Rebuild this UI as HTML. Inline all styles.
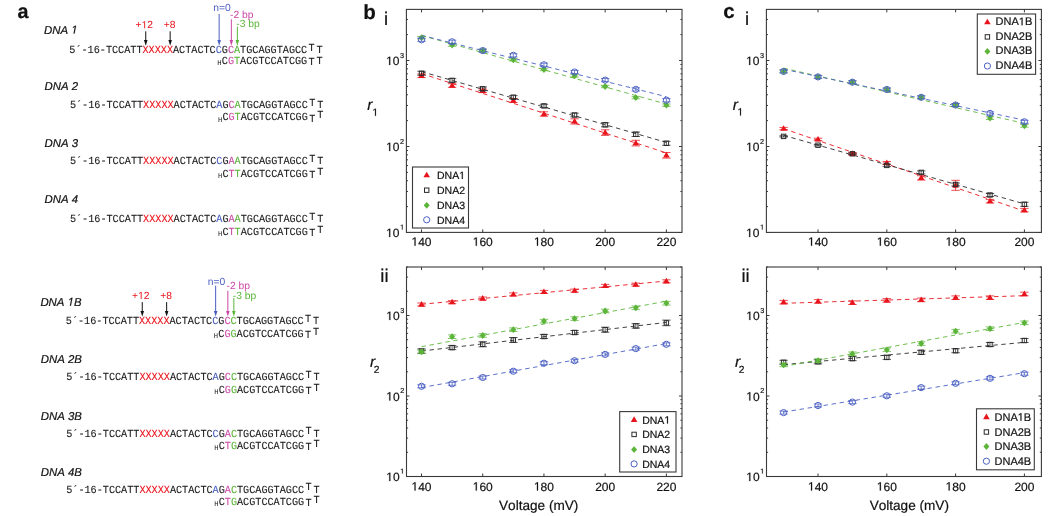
<!DOCTYPE html>
<html><head><meta charset="utf-8"><style>
html,body{margin:0;padding:0;background:#fff;width:1050px;height:516px;overflow:hidden}
svg{display:block;will-change:transform} text{text-rendering:geometricPrecision} .m{stroke-width:0.1px} text{font-kerning:none}

</style></head><body>
<svg width="1050" height="516" viewBox="0 0 1050 516">
<g fill="#111"><path d="M406.4,232.50h3M682,232.50h-3M406.4,206.61h1.6M682,206.61h-1.6M406.4,191.47h1.6M682,191.47h-1.6M406.4,180.72h1.6M682,180.72h-1.6M406.4,172.39h1.6M682,172.39h-1.6M406.4,165.58h1.6M682,165.58h-1.6M406.4,159.82h1.6M682,159.82h-1.6M406.4,154.83h1.6M682,154.83h-1.6M406.4,150.44h1.6M682,150.44h-1.6M406.4,146.50h3M682,146.50h-3M406.4,120.61h1.6M682,120.61h-1.6M406.4,105.47h1.6M682,105.47h-1.6M406.4,94.72h1.6M682,94.72h-1.6M406.4,86.39h1.6M682,86.39h-1.6M406.4,79.58h1.6M682,79.58h-1.6M406.4,73.82h1.6M682,73.82h-1.6M406.4,68.83h1.6M682,68.83h-1.6M406.4,64.44h1.6M682,64.44h-1.6M406.4,60.50h3M682,60.50h-3M406.4,34.61h1.6M682,34.61h-1.6M406.4,19.47h1.6M682,19.47h-1.6M421.50,232.4v-3M421.50,9.4v3M482.73,232.4v-3M482.73,9.4v3M543.95,232.4v-3M543.95,9.4v3M605.17,232.4v-3M605.17,9.4v3M666.40,232.4v-3M666.40,9.4v3" stroke="#3a3a3a" stroke-width="1" fill="none"/>
<rect x="406.4" y="9.4" width="275.6" height="223.0" fill="none" stroke="#3a3a3a" stroke-width="1.1"/>
<path d="M515 0H696V1409H530L197 1180V1010L515 1237Z" transform="translate(411.49,245.7) scale(0.00586,-0.00586)" fill="#111" stroke="#111" stroke-width="34.1"/><text x="418.16" y="245.7" font-family="Liberation Sans, sans-serif" font-size="12" stroke="#111" stroke-width="0.2">40</text>
<path d="M515 0H696V1409H530L197 1180V1010L515 1237Z" transform="translate(472.72,245.7) scale(0.00586,-0.00586)" fill="#111" stroke="#111" stroke-width="34.1"/><text x="479.39" y="245.7" font-family="Liberation Sans, sans-serif" font-size="12" stroke="#111" stroke-width="0.2">60</text>
<path d="M515 0H696V1409H530L197 1180V1010L515 1237Z" transform="translate(533.94,245.7) scale(0.00586,-0.00586)" fill="#111" stroke="#111" stroke-width="34.1"/><text x="540.61" y="245.7" font-family="Liberation Sans, sans-serif" font-size="12" stroke="#111" stroke-width="0.2">80</text>
<text x="605.17" y="245.70" font-family="Liberation Sans, sans-serif" font-size="12" text-anchor="middle" stroke="#111" stroke-width="0.2">200</text>
<text x="666.40" y="245.70" font-family="Liberation Sans, sans-serif" font-size="12" text-anchor="middle" stroke="#111" stroke-width="0.2">220</text>
<path d="M515 0H696V1409H530L197 1180V1010L515 1237Z" transform="translate(386.15,237.0) scale(0.00586,-0.00586)" fill="#111" stroke="#111" stroke-width="34.1"/><text x="392.83" y="237.0" font-family="Liberation Sans, sans-serif" font-size="12" stroke="#111" stroke-width="0.2">0</text>
<path d="M515 0H696V1409H530L197 1180V1010L515 1237Z" transform="translate(400.10,229.6) scale(0.00352,-0.00352)" fill="#111" stroke="#111" stroke-width="56.9"/>
<path d="M515 0H696V1409H530L197 1180V1010L515 1237Z" transform="translate(386.15,151.0) scale(0.00586,-0.00586)" fill="#111" stroke="#111" stroke-width="34.1"/><text x="392.83" y="151.0" font-family="Liberation Sans, sans-serif" font-size="12" stroke="#111" stroke-width="0.2">0</text>
<text x="400.10" y="143.60" font-family="Liberation Sans, sans-serif" font-size="7.2" stroke="#111" stroke-width="0.2">2</text>
<path d="M515 0H696V1409H530L197 1180V1010L515 1237Z" transform="translate(386.15,65.0) scale(0.00586,-0.00586)" fill="#111" stroke="#111" stroke-width="34.1"/><text x="392.83" y="65.0" font-family="Liberation Sans, sans-serif" font-size="12" stroke="#111" stroke-width="0.2">0</text>
<text x="400.10" y="57.60" font-family="Liberation Sans, sans-serif" font-size="7.2" stroke="#111" stroke-width="0.2">3</text>
<line x1="421.50" y1="73.54" x2="666.40" y2="152.91" stroke="#e8141c" stroke-width="0.9" stroke-dasharray="4.4 3.7"/>
<line x1="421.50" y1="71.57" x2="666.40" y2="142.43" stroke="#2a2a2a" stroke-width="0.9" stroke-dasharray="4.4 3.7"/>
<line x1="421.50" y1="35.41" x2="666.40" y2="104.13" stroke="#5cb53a" stroke-width="0.9" stroke-dasharray="4.4 3.7"/>
<line x1="421.50" y1="35.33" x2="666.40" y2="96.67" stroke="#4a5fc2" stroke-width="0.9" stroke-dasharray="4.4 3.7"/>
<path d="M421.50,74.00V77.60M417.30,74.00h8.4M417.30,77.60h8.4" stroke="#e8141c" stroke-width="0.9" fill="none" opacity="0.85"/>
<path d="M421.50,72.33 L424.80,77.93 L418.20,77.93 Z" fill="#e8141c"/>
<path d="M452.11,83.70V87.30M447.91,83.70h8.4M447.91,87.30h8.4" stroke="#e8141c" stroke-width="0.9" fill="none" opacity="0.85"/>
<path d="M452.11,82.03 L455.41,87.63 L448.81,87.63 Z" fill="#e8141c"/>
<path d="M482.73,89.00V92.60M478.53,89.00h8.4M478.53,92.60h8.4" stroke="#e8141c" stroke-width="0.9" fill="none" opacity="0.85"/>
<path d="M482.73,87.33 L486.03,92.93 L479.43,92.93 Z" fill="#e8141c"/>
<path d="M513.34,98.50V102.50M509.14,98.50h8.4M509.14,102.50h8.4" stroke="#e8141c" stroke-width="0.9" fill="none" opacity="0.85"/>
<path d="M513.34,97.03 L516.64,102.63 L510.04,102.63 Z" fill="#e8141c"/>
<path d="M543.95,111.80V116.20M539.75,111.80h8.4M539.75,116.20h8.4" stroke="#e8141c" stroke-width="0.9" fill="none" opacity="0.85"/>
<path d="M543.95,110.53 L547.25,116.13 L540.65,116.13 Z" fill="#e8141c"/>
<path d="M574.56,118.80V124.00M570.36,118.80h8.4M570.36,124.00h8.4" stroke="#e8141c" stroke-width="0.9" fill="none" opacity="0.85"/>
<path d="M574.56,117.93 L577.86,123.53 L571.26,123.53 Z" fill="#e8141c"/>
<path d="M605.17,129.80V135.40M600.97,129.80h8.4M600.97,135.40h8.4" stroke="#e8141c" stroke-width="0.9" fill="none" opacity="0.85"/>
<path d="M605.17,129.13 L608.47,134.73 L601.88,134.73 Z" fill="#e8141c"/>
<path d="M635.79,140.30V145.90M631.59,140.30h8.4M631.59,145.90h8.4" stroke="#e8141c" stroke-width="0.9" fill="none" opacity="0.85"/>
<path d="M635.79,139.63 L639.09,145.23 L632.49,145.23 Z" fill="#e8141c"/>
<path d="M666.40,152.50V158.10M662.20,152.50h8.4M662.20,158.10h8.4" stroke="#e8141c" stroke-width="0.9" fill="none" opacity="0.85"/>
<path d="M666.40,151.83 L669.70,157.43 L663.10,157.43 Z" fill="#e8141c"/>
<path d="M421.50,71.30V75.30M417.30,71.30h8.4M417.30,75.30h8.4" stroke="#2a2a2a" stroke-width="0.9" fill="none" opacity="0.85"/>
<rect x="419.30" y="71.10" width="4.4" height="4.4" fill="none" stroke="#2a2a2a" stroke-width="1"/>
<path d="M452.11,78.60V82.20M447.91,78.60h8.4M447.91,82.20h8.4" stroke="#2a2a2a" stroke-width="0.9" fill="none" opacity="0.85"/>
<rect x="449.91" y="78.20" width="4.4" height="4.4" fill="none" stroke="#2a2a2a" stroke-width="1"/>
<path d="M482.73,87.00V90.60M478.53,87.00h8.4M478.53,90.60h8.4" stroke="#2a2a2a" stroke-width="0.9" fill="none" opacity="0.85"/>
<rect x="480.53" y="86.60" width="4.4" height="4.4" fill="none" stroke="#2a2a2a" stroke-width="1"/>
<path d="M513.34,95.60V98.80M509.14,95.60h8.4M509.14,98.80h8.4" stroke="#2a2a2a" stroke-width="0.9" fill="none" opacity="0.85"/>
<rect x="511.14" y="95.00" width="4.4" height="4.4" fill="none" stroke="#2a2a2a" stroke-width="1"/>
<path d="M543.95,104.30V107.50M539.75,104.30h8.4M539.75,107.50h8.4" stroke="#2a2a2a" stroke-width="0.9" fill="none" opacity="0.85"/>
<rect x="541.75" y="103.70" width="4.4" height="4.4" fill="none" stroke="#2a2a2a" stroke-width="1"/>
<path d="M574.56,113.20V116.80M570.36,113.20h8.4M570.36,116.80h8.4" stroke="#2a2a2a" stroke-width="0.9" fill="none" opacity="0.85"/>
<rect x="572.36" y="112.80" width="4.4" height="4.4" fill="none" stroke="#2a2a2a" stroke-width="1"/>
<path d="M605.17,122.80V126.80M600.97,122.80h8.4M600.97,126.80h8.4" stroke="#2a2a2a" stroke-width="0.9" fill="none" opacity="0.85"/>
<rect x="602.97" y="122.60" width="4.4" height="4.4" fill="none" stroke="#2a2a2a" stroke-width="1"/>
<path d="M635.79,132.10V136.50M631.59,132.10h8.4M631.59,136.50h8.4" stroke="#2a2a2a" stroke-width="0.9" fill="none" opacity="0.85"/>
<rect x="633.59" y="132.10" width="4.4" height="4.4" fill="none" stroke="#2a2a2a" stroke-width="1"/>
<path d="M666.40,141.30V145.30M662.20,141.30h8.4M662.20,145.30h8.4" stroke="#2a2a2a" stroke-width="0.9" fill="none" opacity="0.85"/>
<rect x="664.20" y="141.10" width="4.4" height="4.4" fill="none" stroke="#2a2a2a" stroke-width="1"/>
<path d="M421.50,36.50V38.90M417.30,36.50h8.4M417.30,38.90h8.4" stroke="#5cb53a" stroke-width="0.9" fill="none" opacity="0.85"/>
<path d="M421.50,34.30 L424.50,37.70 L421.50,41.10 L418.50,37.70 Z" fill="#5cb53a"/>
<path d="M452.11,43.90V46.30M447.91,43.90h8.4M447.91,46.30h8.4" stroke="#5cb53a" stroke-width="0.9" fill="none" opacity="0.85"/>
<path d="M452.11,41.70 L455.11,45.10 L452.11,48.50 L449.11,45.10 Z" fill="#5cb53a"/>
<path d="M482.73,49.40V51.80M478.53,49.40h8.4M478.53,51.80h8.4" stroke="#5cb53a" stroke-width="0.9" fill="none" opacity="0.85"/>
<path d="M482.73,47.20 L485.73,50.60 L482.73,54.00 L479.73,50.60 Z" fill="#5cb53a"/>
<path d="M513.34,58.60V61.00M509.14,58.60h8.4M509.14,61.00h8.4" stroke="#5cb53a" stroke-width="0.9" fill="none" opacity="0.85"/>
<path d="M513.34,56.40 L516.34,59.80 L513.34,63.20 L510.34,59.80 Z" fill="#5cb53a"/>
<path d="M543.95,68.30V70.70M539.75,68.30h8.4M539.75,70.70h8.4" stroke="#5cb53a" stroke-width="0.9" fill="none" opacity="0.85"/>
<path d="M543.95,66.10 L546.95,69.50 L543.95,72.90 L540.95,69.50 Z" fill="#5cb53a"/>
<path d="M574.56,74.70V77.10M570.36,74.70h8.4M570.36,77.10h8.4" stroke="#5cb53a" stroke-width="0.9" fill="none" opacity="0.85"/>
<path d="M574.56,72.50 L577.56,75.90 L574.56,79.30 L571.56,75.90 Z" fill="#5cb53a"/>
<path d="M605.17,85.30V87.70M600.97,85.30h8.4M600.97,87.70h8.4" stroke="#5cb53a" stroke-width="0.9" fill="none" opacity="0.85"/>
<path d="M605.17,83.10 L608.17,86.50 L605.17,89.90 L602.17,86.50 Z" fill="#5cb53a"/>
<path d="M635.79,96.40V98.80M631.59,96.40h8.4M631.59,98.80h8.4" stroke="#5cb53a" stroke-width="0.9" fill="none" opacity="0.85"/>
<path d="M635.79,94.20 L638.79,97.60 L635.79,101.00 L632.79,97.60 Z" fill="#5cb53a"/>
<path d="M666.40,104.00V106.40M662.20,104.00h8.4M662.20,106.40h8.4" stroke="#5cb53a" stroke-width="0.9" fill="none" opacity="0.85"/>
<path d="M666.40,101.80 L669.40,105.20 L666.40,108.60 L663.40,105.20 Z" fill="#5cb53a"/>
<path d="M421.50,38.20V41.40M417.30,38.20h8.4M417.30,41.40h8.4" stroke="#4a5fc2" stroke-width="0.9" fill="none" opacity="0.85"/>
<circle cx="421.50" cy="39.80" r="3.1" fill="none" stroke="#4a5fc2" stroke-width="1"/>
<path d="M452.11,40.20V43.40M447.91,40.20h8.4M447.91,43.40h8.4" stroke="#4a5fc2" stroke-width="0.9" fill="none" opacity="0.85"/>
<circle cx="452.11" cy="41.80" r="3.1" fill="none" stroke="#4a5fc2" stroke-width="1"/>
<path d="M482.73,49.00V52.20M478.53,49.00h8.4M478.53,52.20h8.4" stroke="#4a5fc2" stroke-width="0.9" fill="none" opacity="0.85"/>
<circle cx="482.73" cy="50.60" r="3.1" fill="none" stroke="#4a5fc2" stroke-width="1"/>
<path d="M513.34,53.70V56.90M509.14,53.70h8.4M509.14,56.90h8.4" stroke="#4a5fc2" stroke-width="0.9" fill="none" opacity="0.85"/>
<circle cx="513.34" cy="55.30" r="3.1" fill="none" stroke="#4a5fc2" stroke-width="1"/>
<path d="M543.95,63.20V66.40M539.75,63.20h8.4M539.75,66.40h8.4" stroke="#4a5fc2" stroke-width="0.9" fill="none" opacity="0.85"/>
<circle cx="543.95" cy="64.80" r="3.1" fill="none" stroke="#4a5fc2" stroke-width="1"/>
<path d="M574.56,70.40V73.60M570.36,70.40h8.4M570.36,73.60h8.4" stroke="#4a5fc2" stroke-width="0.9" fill="none" opacity="0.85"/>
<circle cx="574.56" cy="72.00" r="3.1" fill="none" stroke="#4a5fc2" stroke-width="1"/>
<path d="M605.17,78.50V81.70M600.97,78.50h8.4M600.97,81.70h8.4" stroke="#4a5fc2" stroke-width="0.9" fill="none" opacity="0.85"/>
<circle cx="605.17" cy="80.10" r="3.1" fill="none" stroke="#4a5fc2" stroke-width="1"/>
<path d="M635.79,87.80V91.00M631.59,87.80h8.4M631.59,91.00h8.4" stroke="#4a5fc2" stroke-width="0.9" fill="none" opacity="0.85"/>
<circle cx="635.79" cy="89.40" r="3.1" fill="none" stroke="#4a5fc2" stroke-width="1"/>
<path d="M666.40,98.60V101.80M662.20,98.60h8.4M662.20,101.80h8.4" stroke="#4a5fc2" stroke-width="0.9" fill="none" opacity="0.85"/>
<circle cx="666.40" cy="100.20" r="3.1" fill="none" stroke="#4a5fc2" stroke-width="1"/>
<rect x="412.5" y="167" width="56.0" height="61" fill="#fff" stroke="#3a3a3a" stroke-width="1.1"/>
<path d="M426.70,171.73 L430.00,177.33 L423.40,177.33 Z" fill="#e8141c"/>
<text x="437.00" y="179.0" font-family="Liberation Sans, sans-serif" font-size="10.5" stroke="#111" stroke-width="0.2">DNA</text><path d="M515 0H696V1409H530L197 1180V1010L515 1237Z" transform="translate(459.17,179.0) scale(0.00513,-0.00513)" fill="#111" stroke="#111" stroke-width="39.0"/>
<rect x="424.50" y="188.00" width="4.4" height="4.4" fill="none" stroke="#2a2a2a" stroke-width="1"/>
<text x="437" y="194.00" font-family="Liberation Sans, sans-serif" font-size="10.5" stroke="#111" stroke-width="0.2">DNA2</text>
<path d="M426.70,201.90 L429.70,205.30 L426.70,208.70 L423.70,205.30 Z" fill="#5cb53a"/>
<text x="437" y="209.10" font-family="Liberation Sans, sans-serif" font-size="10.5" stroke="#111" stroke-width="0.2">DNA3</text>
<circle cx="426.70" cy="219.80" r="3.1" fill="none" stroke="#4a5fc2" stroke-width="1"/>
<text x="437" y="223.60" font-family="Liberation Sans, sans-serif" font-size="10.5" stroke="#111" stroke-width="0.2">DNA4</text>
<path d="M406.5,476.50h3M682,476.50h-3M406.5,452.27h1.6M682,452.27h-1.6M406.5,438.09h1.6M682,438.09h-1.6M406.5,428.03h1.6M682,428.03h-1.6M406.5,420.23h1.6M682,420.23h-1.6M406.5,413.86h1.6M682,413.86h-1.6M406.5,408.47h1.6M682,408.47h-1.6M406.5,403.80h1.6M682,403.80h-1.6M406.5,399.68h1.6M682,399.68h-1.6M406.5,396.00h3M682,396.00h-3M406.5,371.77h1.6M682,371.77h-1.6M406.5,357.59h1.6M682,357.59h-1.6M406.5,347.53h1.6M682,347.53h-1.6M406.5,339.73h1.6M682,339.73h-1.6M406.5,333.36h1.6M682,333.36h-1.6M406.5,327.97h1.6M682,327.97h-1.6M406.5,323.30h1.6M682,323.30h-1.6M406.5,319.18h1.6M682,319.18h-1.6M406.5,315.50h3M682,315.50h-3M406.5,291.27h1.6M682,291.27h-1.6M406.5,277.09h1.6M682,277.09h-1.6M406.5,267.03h1.6M682,267.03h-1.6M421.50,476.5v-3M421.50,267v3M482.73,476.5v-3M482.73,267v3M543.95,476.5v-3M543.95,267v3M605.17,476.5v-3M605.17,267v3M666.40,476.5v-3M666.40,267v3" stroke="#3a3a3a" stroke-width="1" fill="none"/>
<rect x="406.5" y="267" width="275.5" height="209.5" fill="none" stroke="#3a3a3a" stroke-width="1.1"/>
<path d="M515 0H696V1409H530L197 1180V1010L515 1237Z" transform="translate(411.49,490.6) scale(0.00586,-0.00586)" fill="#111" stroke="#111" stroke-width="34.1"/><text x="418.16" y="490.6" font-family="Liberation Sans, sans-serif" font-size="12" stroke="#111" stroke-width="0.2">40</text>
<path d="M515 0H696V1409H530L197 1180V1010L515 1237Z" transform="translate(472.72,490.6) scale(0.00586,-0.00586)" fill="#111" stroke="#111" stroke-width="34.1"/><text x="479.39" y="490.6" font-family="Liberation Sans, sans-serif" font-size="12" stroke="#111" stroke-width="0.2">60</text>
<path d="M515 0H696V1409H530L197 1180V1010L515 1237Z" transform="translate(533.94,490.6) scale(0.00586,-0.00586)" fill="#111" stroke="#111" stroke-width="34.1"/><text x="540.61" y="490.6" font-family="Liberation Sans, sans-serif" font-size="12" stroke="#111" stroke-width="0.2">80</text>
<text x="605.17" y="490.60" font-family="Liberation Sans, sans-serif" font-size="12" text-anchor="middle" stroke="#111" stroke-width="0.2">200</text>
<text x="666.40" y="490.60" font-family="Liberation Sans, sans-serif" font-size="12" text-anchor="middle" stroke="#111" stroke-width="0.2">220</text>
<path d="M515 0H696V1409H530L197 1180V1010L515 1237Z" transform="translate(386.25,481.0) scale(0.00586,-0.00586)" fill="#111" stroke="#111" stroke-width="34.1"/><text x="392.93" y="481.0" font-family="Liberation Sans, sans-serif" font-size="12" stroke="#111" stroke-width="0.2">0</text>
<path d="M515 0H696V1409H530L197 1180V1010L515 1237Z" transform="translate(400.20,473.6) scale(0.00352,-0.00352)" fill="#111" stroke="#111" stroke-width="56.9"/>
<path d="M515 0H696V1409H530L197 1180V1010L515 1237Z" transform="translate(386.25,400.5) scale(0.00586,-0.00586)" fill="#111" stroke="#111" stroke-width="34.1"/><text x="392.93" y="400.5" font-family="Liberation Sans, sans-serif" font-size="12" stroke="#111" stroke-width="0.2">0</text>
<text x="400.20" y="393.10" font-family="Liberation Sans, sans-serif" font-size="7.2" stroke="#111" stroke-width="0.2">2</text>
<path d="M515 0H696V1409H530L197 1180V1010L515 1237Z" transform="translate(386.25,320.0) scale(0.00586,-0.00586)" fill="#111" stroke="#111" stroke-width="34.1"/><text x="392.93" y="320.0" font-family="Liberation Sans, sans-serif" font-size="12" stroke="#111" stroke-width="0.2">0</text>
<text x="400.20" y="312.60" font-family="Liberation Sans, sans-serif" font-size="7.2" stroke="#111" stroke-width="0.2">3</text>
<line x1="421.50" y1="304.30" x2="666.40" y2="281.02" stroke="#e8141c" stroke-width="0.9" stroke-dasharray="4.4 3.7"/>
<line x1="421.50" y1="351.03" x2="666.40" y2="322.42" stroke="#2a2a2a" stroke-width="0.9" stroke-dasharray="4.4 3.7"/>
<line x1="421.50" y1="346.68" x2="666.40" y2="301.19" stroke="#5cb53a" stroke-width="0.9" stroke-dasharray="4.4 3.7"/>
<line x1="421.50" y1="387.58" x2="666.40" y2="343.54" stroke="#4a5fc2" stroke-width="0.9" stroke-dasharray="4.4 3.7"/>
<path d="M421.50,303.00V306.00M417.30,303.00h8.4M417.30,306.00h8.4" stroke="#e8141c" stroke-width="0.9" fill="none" opacity="0.85"/>
<path d="M421.50,301.03 L424.80,306.63 L418.20,306.63 Z" fill="#e8141c"/>
<path d="M452.11,300.70V303.70M447.91,300.70h8.4M447.91,303.70h8.4" stroke="#e8141c" stroke-width="0.9" fill="none" opacity="0.85"/>
<path d="M452.11,298.73 L455.41,304.33 L448.81,304.33 Z" fill="#e8141c"/>
<path d="M482.73,297.00V300.00M478.53,297.00h8.4M478.53,300.00h8.4" stroke="#e8141c" stroke-width="0.9" fill="none" opacity="0.85"/>
<path d="M482.73,295.03 L486.03,300.63 L479.43,300.63 Z" fill="#e8141c"/>
<path d="M513.34,292.90V295.90M509.14,292.90h8.4M509.14,295.90h8.4" stroke="#e8141c" stroke-width="0.9" fill="none" opacity="0.85"/>
<path d="M513.34,290.93 L516.64,296.53 L510.04,296.53 Z" fill="#e8141c"/>
<path d="M543.95,290.40V293.40M539.75,290.40h8.4M539.75,293.40h8.4" stroke="#e8141c" stroke-width="0.9" fill="none" opacity="0.85"/>
<path d="M543.95,288.43 L547.25,294.03 L540.65,294.03 Z" fill="#e8141c"/>
<path d="M574.56,289.10V292.10M570.36,289.10h8.4M570.36,292.10h8.4" stroke="#e8141c" stroke-width="0.9" fill="none" opacity="0.85"/>
<path d="M574.56,287.13 L577.86,292.73 L571.26,292.73 Z" fill="#e8141c"/>
<path d="M605.17,284.40V287.40M600.97,284.40h8.4M600.97,287.40h8.4" stroke="#e8141c" stroke-width="0.9" fill="none" opacity="0.85"/>
<path d="M605.17,282.43 L608.47,288.03 L601.88,288.03 Z" fill="#e8141c"/>
<path d="M635.79,283.10V286.10M631.59,283.10h8.4M631.59,286.10h8.4" stroke="#e8141c" stroke-width="0.9" fill="none" opacity="0.85"/>
<path d="M635.79,281.13 L639.09,286.73 L632.49,286.73 Z" fill="#e8141c"/>
<path d="M666.40,279.80V282.80M662.20,279.80h8.4M662.20,282.80h8.4" stroke="#e8141c" stroke-width="0.9" fill="none" opacity="0.85"/>
<path d="M666.40,277.83 L669.70,283.43 L663.10,283.43 Z" fill="#e8141c"/>
<path d="M421.50,348.90V353.30M417.30,348.90h8.4M417.30,353.30h8.4" stroke="#2a2a2a" stroke-width="0.9" fill="none" opacity="0.85"/>
<rect x="419.30" y="348.90" width="4.4" height="4.4" fill="none" stroke="#2a2a2a" stroke-width="1"/>
<path d="M452.11,345.60V349.60M447.91,345.60h8.4M447.91,349.60h8.4" stroke="#2a2a2a" stroke-width="0.9" fill="none" opacity="0.85"/>
<rect x="449.91" y="345.40" width="4.4" height="4.4" fill="none" stroke="#2a2a2a" stroke-width="1"/>
<path d="M482.73,341.80V346.80M478.53,341.80h8.4M478.53,346.80h8.4" stroke="#2a2a2a" stroke-width="0.9" fill="none" opacity="0.85"/>
<rect x="480.53" y="342.10" width="4.4" height="4.4" fill="none" stroke="#2a2a2a" stroke-width="1"/>
<path d="M513.34,337.50V342.50M509.14,337.50h8.4M509.14,342.50h8.4" stroke="#2a2a2a" stroke-width="0.9" fill="none" opacity="0.85"/>
<rect x="511.14" y="337.80" width="4.4" height="4.4" fill="none" stroke="#2a2a2a" stroke-width="1"/>
<path d="M543.95,334.50V338.50M539.75,334.50h8.4M539.75,338.50h8.4" stroke="#2a2a2a" stroke-width="0.9" fill="none" opacity="0.85"/>
<rect x="541.75" y="334.30" width="4.4" height="4.4" fill="none" stroke="#2a2a2a" stroke-width="1"/>
<path d="M574.56,330.50V334.50M570.36,330.50h8.4M570.36,334.50h8.4" stroke="#2a2a2a" stroke-width="0.9" fill="none" opacity="0.85"/>
<rect x="572.36" y="330.30" width="4.4" height="4.4" fill="none" stroke="#2a2a2a" stroke-width="1"/>
<path d="M605.17,327.20V332.20M600.97,327.20h8.4M600.97,332.20h8.4" stroke="#2a2a2a" stroke-width="0.9" fill="none" opacity="0.85"/>
<rect x="602.97" y="327.50" width="4.4" height="4.4" fill="none" stroke="#2a2a2a" stroke-width="1"/>
<path d="M635.79,323.70V328.10M631.59,323.70h8.4M631.59,328.10h8.4" stroke="#2a2a2a" stroke-width="0.9" fill="none" opacity="0.85"/>
<rect x="633.59" y="323.70" width="4.4" height="4.4" fill="none" stroke="#2a2a2a" stroke-width="1"/>
<path d="M666.40,320.10V325.70M662.20,320.10h8.4M662.20,325.70h8.4" stroke="#2a2a2a" stroke-width="0.9" fill="none" opacity="0.85"/>
<rect x="664.20" y="320.70" width="4.4" height="4.4" fill="none" stroke="#2a2a2a" stroke-width="1"/>
<path d="M421.50,350.00V353.60M417.30,350.00h8.4M417.30,353.60h8.4" stroke="#5cb53a" stroke-width="0.9" fill="none" opacity="0.85"/>
<path d="M421.50,348.40 L424.50,351.80 L421.50,355.20 L418.50,351.80 Z" fill="#5cb53a"/>
<path d="M452.11,334.90V338.50M447.91,334.90h8.4M447.91,338.50h8.4" stroke="#5cb53a" stroke-width="0.9" fill="none" opacity="0.85"/>
<path d="M452.11,333.30 L455.11,336.70 L452.11,340.10 L449.11,336.70 Z" fill="#5cb53a"/>
<path d="M482.73,333.70V337.30M478.53,333.70h8.4M478.53,337.30h8.4" stroke="#5cb53a" stroke-width="0.9" fill="none" opacity="0.85"/>
<path d="M482.73,332.10 L485.73,335.50 L482.73,338.90 L479.73,335.50 Z" fill="#5cb53a"/>
<path d="M513.34,327.90V331.50M509.14,327.90h8.4M509.14,331.50h8.4" stroke="#5cb53a" stroke-width="0.9" fill="none" opacity="0.85"/>
<path d="M513.34,326.30 L516.34,329.70 L513.34,333.10 L510.34,329.70 Z" fill="#5cb53a"/>
<path d="M543.95,319.30V322.90M539.75,319.30h8.4M539.75,322.90h8.4" stroke="#5cb53a" stroke-width="0.9" fill="none" opacity="0.85"/>
<path d="M543.95,317.70 L546.95,321.10 L543.95,324.50 L540.95,321.10 Z" fill="#5cb53a"/>
<path d="M574.56,316.80V320.40M570.36,316.80h8.4M570.36,320.40h8.4" stroke="#5cb53a" stroke-width="0.9" fill="none" opacity="0.85"/>
<path d="M574.56,315.20 L577.56,318.60 L574.56,322.00 L571.56,318.60 Z" fill="#5cb53a"/>
<path d="M605.17,309.20V312.80M600.97,309.20h8.4M600.97,312.80h8.4" stroke="#5cb53a" stroke-width="0.9" fill="none" opacity="0.85"/>
<path d="M605.17,307.60 L608.17,311.00 L605.17,314.40 L602.17,311.00 Z" fill="#5cb53a"/>
<path d="M635.79,306.00V309.60M631.59,306.00h8.4M631.59,309.60h8.4" stroke="#5cb53a" stroke-width="0.9" fill="none" opacity="0.85"/>
<path d="M635.79,304.40 L638.79,307.80 L635.79,311.20 L632.79,307.80 Z" fill="#5cb53a"/>
<path d="M666.40,301.40V305.00M662.20,301.40h8.4M662.20,305.00h8.4" stroke="#5cb53a" stroke-width="0.9" fill="none" opacity="0.85"/>
<path d="M666.40,299.80 L669.40,303.20 L666.40,306.60 L663.40,303.20 Z" fill="#5cb53a"/>
<path d="M421.50,384.80V387.80M417.30,384.80h8.4M417.30,387.80h8.4" stroke="#4a5fc2" stroke-width="0.9" fill="none" opacity="0.85"/>
<circle cx="421.50" cy="386.30" r="3.1" fill="none" stroke="#4a5fc2" stroke-width="1"/>
<path d="M452.11,382.30V385.30M447.91,382.30h8.4M447.91,385.30h8.4" stroke="#4a5fc2" stroke-width="0.9" fill="none" opacity="0.85"/>
<circle cx="452.11" cy="383.80" r="3.1" fill="none" stroke="#4a5fc2" stroke-width="1"/>
<path d="M482.73,376.00V379.00M478.53,376.00h8.4M478.53,379.00h8.4" stroke="#4a5fc2" stroke-width="0.9" fill="none" opacity="0.85"/>
<circle cx="482.73" cy="377.50" r="3.1" fill="none" stroke="#4a5fc2" stroke-width="1"/>
<path d="M513.34,369.70V372.70M509.14,369.70h8.4M509.14,372.70h8.4" stroke="#4a5fc2" stroke-width="0.9" fill="none" opacity="0.85"/>
<circle cx="513.34" cy="371.20" r="3.1" fill="none" stroke="#4a5fc2" stroke-width="1"/>
<path d="M543.95,361.70V364.70M539.75,361.70h8.4M539.75,364.70h8.4" stroke="#4a5fc2" stroke-width="0.9" fill="none" opacity="0.85"/>
<circle cx="543.95" cy="363.20" r="3.1" fill="none" stroke="#4a5fc2" stroke-width="1"/>
<path d="M574.56,359.20V362.20M570.36,359.20h8.4M570.36,362.20h8.4" stroke="#4a5fc2" stroke-width="0.9" fill="none" opacity="0.85"/>
<circle cx="574.56" cy="360.70" r="3.1" fill="none" stroke="#4a5fc2" stroke-width="1"/>
<path d="M605.17,352.90V355.90M600.97,352.90h8.4M600.97,355.90h8.4" stroke="#4a5fc2" stroke-width="0.9" fill="none" opacity="0.85"/>
<circle cx="605.17" cy="354.40" r="3.1" fill="none" stroke="#4a5fc2" stroke-width="1"/>
<path d="M635.79,347.10V350.10M631.59,347.10h8.4M631.59,350.10h8.4" stroke="#4a5fc2" stroke-width="0.9" fill="none" opacity="0.85"/>
<circle cx="635.79" cy="348.60" r="3.1" fill="none" stroke="#4a5fc2" stroke-width="1"/>
<path d="M666.40,342.80V345.80M662.20,342.80h8.4M662.20,345.80h8.4" stroke="#4a5fc2" stroke-width="0.9" fill="none" opacity="0.85"/>
<circle cx="666.40" cy="344.30" r="3.1" fill="none" stroke="#4a5fc2" stroke-width="1"/>
<rect x="619.7" y="411.6" width="56.299999999999955" height="60.39999999999998" fill="#fff" stroke="#3a3a3a" stroke-width="1.1"/>
<path d="M634.10,416.33 L637.40,421.93 L630.80,421.93 Z" fill="#e8141c"/>
<text x="642.20" y="423.6" font-family="Liberation Sans, sans-serif" font-size="10.5" stroke="#111" stroke-width="0.2">DNA</text><path d="M515 0H696V1409H530L197 1180V1010L515 1237Z" transform="translate(664.37,423.6) scale(0.00513,-0.00513)" fill="#111" stroke="#111" stroke-width="39.0"/>
<rect x="631.90" y="432.20" width="4.4" height="4.4" fill="none" stroke="#2a2a2a" stroke-width="1"/>
<text x="642.2" y="438.20" font-family="Liberation Sans, sans-serif" font-size="10.5" stroke="#111" stroke-width="0.2">DNA2</text>
<path d="M634.10,446.20 L637.10,449.60 L634.10,453.00 L631.10,449.60 Z" fill="#5cb53a"/>
<text x="642.2" y="453.40" font-family="Liberation Sans, sans-serif" font-size="10.5" stroke="#111" stroke-width="0.2">DNA3</text>
<circle cx="634.10" cy="463.90" r="3.1" fill="none" stroke="#4a5fc2" stroke-width="1"/>
<text x="642.2" y="467.70" font-family="Liberation Sans, sans-serif" font-size="10.5" stroke="#111" stroke-width="0.2">DNA4</text>
<path d="M766.4,232.50h3M1041.4,232.50h-3M766.4,206.61h1.6M1041.4,206.61h-1.6M766.4,191.47h1.6M1041.4,191.47h-1.6M766.4,180.72h1.6M1041.4,180.72h-1.6M766.4,172.39h1.6M1041.4,172.39h-1.6M766.4,165.58h1.6M1041.4,165.58h-1.6M766.4,159.82h1.6M1041.4,159.82h-1.6M766.4,154.83h1.6M1041.4,154.83h-1.6M766.4,150.44h1.6M1041.4,150.44h-1.6M766.4,146.50h3M1041.4,146.50h-3M766.4,120.61h1.6M1041.4,120.61h-1.6M766.4,105.47h1.6M1041.4,105.47h-1.6M766.4,94.72h1.6M1041.4,94.72h-1.6M766.4,86.39h1.6M1041.4,86.39h-1.6M766.4,79.58h1.6M1041.4,79.58h-1.6M766.4,73.82h1.6M1041.4,73.82h-1.6M766.4,68.83h1.6M1041.4,68.83h-1.6M766.4,64.44h1.6M1041.4,64.44h-1.6M766.4,60.50h3M1041.4,60.50h-3M766.4,34.61h1.6M1041.4,34.61h-1.6M766.4,19.47h1.6M1041.4,19.47h-1.6M818.00,232.4v-3M818.00,9.4v3M886.80,232.4v-3M886.80,9.4v3M955.60,232.4v-3M955.60,9.4v3M1024.40,232.4v-3M1024.40,9.4v3" stroke="#3a3a3a" stroke-width="1" fill="none"/>
<rect x="766.4" y="9.4" width="275.0000000000001" height="223.0" fill="none" stroke="#3a3a3a" stroke-width="1.1"/>
<path d="M515 0H696V1409H530L197 1180V1010L515 1237Z" transform="translate(807.99,245.7) scale(0.00586,-0.00586)" fill="#111" stroke="#111" stroke-width="34.1"/><text x="814.66" y="245.7" font-family="Liberation Sans, sans-serif" font-size="12" stroke="#111" stroke-width="0.2">40</text>
<path d="M515 0H696V1409H530L197 1180V1010L515 1237Z" transform="translate(876.79,245.7) scale(0.00586,-0.00586)" fill="#111" stroke="#111" stroke-width="34.1"/><text x="883.46" y="245.7" font-family="Liberation Sans, sans-serif" font-size="12" stroke="#111" stroke-width="0.2">60</text>
<path d="M515 0H696V1409H530L197 1180V1010L515 1237Z" transform="translate(945.59,245.7) scale(0.00586,-0.00586)" fill="#111" stroke="#111" stroke-width="34.1"/><text x="952.26" y="245.7" font-family="Liberation Sans, sans-serif" font-size="12" stroke="#111" stroke-width="0.2">80</text>
<text x="1024.40" y="245.70" font-family="Liberation Sans, sans-serif" font-size="12" text-anchor="middle" stroke="#111" stroke-width="0.2">200</text>
<path d="M515 0H696V1409H530L197 1180V1010L515 1237Z" transform="translate(746.15,237.0) scale(0.00586,-0.00586)" fill="#111" stroke="#111" stroke-width="34.1"/><text x="752.83" y="237.0" font-family="Liberation Sans, sans-serif" font-size="12" stroke="#111" stroke-width="0.2">0</text>
<path d="M515 0H696V1409H530L197 1180V1010L515 1237Z" transform="translate(760.10,229.6) scale(0.00352,-0.00352)" fill="#111" stroke="#111" stroke-width="56.9"/>
<path d="M515 0H696V1409H530L197 1180V1010L515 1237Z" transform="translate(746.15,151.0) scale(0.00586,-0.00586)" fill="#111" stroke="#111" stroke-width="34.1"/><text x="752.83" y="151.0" font-family="Liberation Sans, sans-serif" font-size="12" stroke="#111" stroke-width="0.2">0</text>
<text x="760.10" y="143.60" font-family="Liberation Sans, sans-serif" font-size="7.2" stroke="#111" stroke-width="0.2">2</text>
<path d="M515 0H696V1409H530L197 1180V1010L515 1237Z" transform="translate(746.15,65.0) scale(0.00586,-0.00586)" fill="#111" stroke="#111" stroke-width="34.1"/><text x="752.83" y="65.0" font-family="Liberation Sans, sans-serif" font-size="12" stroke="#111" stroke-width="0.2">0</text>
<text x="760.10" y="57.60" font-family="Liberation Sans, sans-serif" font-size="7.2" stroke="#111" stroke-width="0.2">3</text>
<line x1="783.60" y1="128.69" x2="1024.40" y2="211.16" stroke="#e8141c" stroke-width="0.9" stroke-dasharray="4.4 3.7"/>
<line x1="783.60" y1="135.32" x2="1024.40" y2="203.93" stroke="#2a2a2a" stroke-width="0.9" stroke-dasharray="4.4 3.7"/>
<line x1="783.60" y1="68.15" x2="1024.40" y2="123.40" stroke="#5cb53a" stroke-width="0.9" stroke-dasharray="4.4 3.7"/>
<line x1="783.60" y1="69.21" x2="1024.40" y2="120.17" stroke="#4a5fc2" stroke-width="0.9" stroke-dasharray="4.4 3.7"/>
<path d="M783.60,127.40V129.80M779.40,127.40h8.4M779.40,129.80h8.4" stroke="#e8141c" stroke-width="0.9" fill="none" opacity="0.85"/>
<path d="M783.60,125.13 L786.90,130.73 L780.30,130.73 Z" fill="#e8141c"/>
<path d="M818.00,138.20V140.60M813.80,138.20h8.4M813.80,140.60h8.4" stroke="#e8141c" stroke-width="0.9" fill="none" opacity="0.85"/>
<path d="M818.00,135.93 L821.30,141.53 L814.70,141.53 Z" fill="#e8141c"/>
<path d="M852.40,152.60V155.00M848.20,152.60h8.4M848.20,155.00h8.4" stroke="#e8141c" stroke-width="0.9" fill="none" opacity="0.85"/>
<path d="M852.40,150.33 L855.70,155.93 L849.10,155.93 Z" fill="#e8141c"/>
<path d="M886.80,161.50V164.50M882.60,161.50h8.4M882.60,164.50h8.4" stroke="#e8141c" stroke-width="0.9" fill="none" opacity="0.85"/>
<path d="M886.80,159.53 L890.10,165.13 L883.50,165.13 Z" fill="#e8141c"/>
<path d="M921.20,175.70V180.10M917.00,175.70h8.4M917.00,180.10h8.4" stroke="#e8141c" stroke-width="0.9" fill="none" opacity="0.85"/>
<path d="M921.20,174.43 L924.50,180.03 L917.90,180.03 Z" fill="#e8141c"/>
<path d="M955.60,180.30V190.30M951.40,180.30h8.4M951.40,190.30h8.4" stroke="#e8141c" stroke-width="0.9" fill="none" opacity="0.85"/>
<path d="M955.60,181.83 L958.90,187.43 L952.30,187.43 Z" fill="#e8141c"/>
<path d="M990.00,199.40V203.00M985.80,199.40h8.4M985.80,203.00h8.4" stroke="#e8141c" stroke-width="0.9" fill="none" opacity="0.85"/>
<path d="M990.00,197.73 L993.30,203.33 L986.70,203.33 Z" fill="#e8141c"/>
<path d="M1024.40,208.40V212.00M1020.20,208.40h8.4M1020.20,212.00h8.4" stroke="#e8141c" stroke-width="0.9" fill="none" opacity="0.85"/>
<path d="M1024.40,206.73 L1027.70,212.33 L1021.10,212.33 Z" fill="#e8141c"/>
<path d="M783.60,135.80V137.00M779.40,135.80h8.4M779.40,137.00h8.4" stroke="#2a2a2a" stroke-width="0.9" fill="none" opacity="0.85"/>
<rect x="781.40" y="134.20" width="4.4" height="4.4" fill="none" stroke="#2a2a2a" stroke-width="1"/>
<path d="M818.00,144.40V146.00M813.80,144.40h8.4M813.80,146.00h8.4" stroke="#2a2a2a" stroke-width="0.9" fill="none" opacity="0.85"/>
<rect x="815.80" y="143.00" width="4.4" height="4.4" fill="none" stroke="#2a2a2a" stroke-width="1"/>
<path d="M852.40,153.00V154.60M848.20,153.00h8.4M848.20,154.60h8.4" stroke="#2a2a2a" stroke-width="0.9" fill="none" opacity="0.85"/>
<rect x="850.20" y="151.60" width="4.4" height="4.4" fill="none" stroke="#2a2a2a" stroke-width="1"/>
<path d="M886.80,164.20V166.60M882.60,164.20h8.4M882.60,166.60h8.4" stroke="#2a2a2a" stroke-width="0.9" fill="none" opacity="0.85"/>
<rect x="884.60" y="163.20" width="4.4" height="4.4" fill="none" stroke="#2a2a2a" stroke-width="1"/>
<path d="M921.20,170.90V173.90M917.00,170.90h8.4M917.00,173.90h8.4" stroke="#2a2a2a" stroke-width="0.9" fill="none" opacity="0.85"/>
<rect x="919.00" y="170.20" width="4.4" height="4.4" fill="none" stroke="#2a2a2a" stroke-width="1"/>
<path d="M955.60,183.00V186.00M951.40,183.00h8.4M951.40,186.00h8.4" stroke="#2a2a2a" stroke-width="0.9" fill="none" opacity="0.85"/>
<rect x="953.40" y="182.30" width="4.4" height="4.4" fill="none" stroke="#2a2a2a" stroke-width="1"/>
<path d="M990.00,193.50V196.50M985.80,193.50h8.4M985.80,196.50h8.4" stroke="#2a2a2a" stroke-width="0.9" fill="none" opacity="0.85"/>
<rect x="987.80" y="192.80" width="4.4" height="4.4" fill="none" stroke="#2a2a2a" stroke-width="1"/>
<path d="M1024.40,202.30V206.30M1020.20,202.30h8.4M1020.20,206.30h8.4" stroke="#2a2a2a" stroke-width="0.9" fill="none" opacity="0.85"/>
<rect x="1022.20" y="202.10" width="4.4" height="4.4" fill="none" stroke="#2a2a2a" stroke-width="1"/>
<path d="M783.60,70.00V72.80M779.40,70.00h8.4M779.40,72.80h8.4" stroke="#5cb53a" stroke-width="0.9" fill="none" opacity="0.85"/>
<path d="M783.60,68.00 L786.60,71.40 L783.60,74.80 L780.60,71.40 Z" fill="#5cb53a"/>
<path d="M818.00,75.50V78.30M813.80,75.50h8.4M813.80,78.30h8.4" stroke="#5cb53a" stroke-width="0.9" fill="none" opacity="0.85"/>
<path d="M818.00,73.50 L821.00,76.90 L818.00,80.30 L815.00,76.90 Z" fill="#5cb53a"/>
<path d="M852.40,80.80V83.60M848.20,80.80h8.4M848.20,83.60h8.4" stroke="#5cb53a" stroke-width="0.9" fill="none" opacity="0.85"/>
<path d="M852.40,78.80 L855.40,82.20 L852.40,85.60 L849.40,82.20 Z" fill="#5cb53a"/>
<path d="M886.80,88.10V90.90M882.60,88.10h8.4M882.60,90.90h8.4" stroke="#5cb53a" stroke-width="0.9" fill="none" opacity="0.85"/>
<path d="M886.80,86.10 L889.80,89.50 L886.80,92.90 L883.80,89.50 Z" fill="#5cb53a"/>
<path d="M921.20,95.90V98.70M917.00,95.90h8.4M917.00,98.70h8.4" stroke="#5cb53a" stroke-width="0.9" fill="none" opacity="0.85"/>
<path d="M921.20,93.90 L924.20,97.30 L921.20,100.70 L918.20,97.30 Z" fill="#5cb53a"/>
<path d="M955.60,103.60V106.40M951.40,103.60h8.4M951.40,106.40h8.4" stroke="#5cb53a" stroke-width="0.9" fill="none" opacity="0.85"/>
<path d="M955.60,101.60 L958.60,105.00 L955.60,108.40 L952.60,105.00 Z" fill="#5cb53a"/>
<path d="M990.00,116.70V119.50M985.80,116.70h8.4M985.80,119.50h8.4" stroke="#5cb53a" stroke-width="0.9" fill="none" opacity="0.85"/>
<path d="M990.00,114.70 L993.00,118.10 L990.00,121.50 L987.00,118.10 Z" fill="#5cb53a"/>
<path d="M1024.40,124.40V127.20M1020.20,124.40h8.4M1020.20,127.20h8.4" stroke="#5cb53a" stroke-width="0.9" fill="none" opacity="0.85"/>
<path d="M1024.40,122.40 L1027.40,125.80 L1024.40,129.20 L1021.40,125.80 Z" fill="#5cb53a"/>
<path d="M783.60,69.90V72.90M779.40,69.90h8.4M779.40,72.90h8.4" stroke="#4a5fc2" stroke-width="0.9" fill="none" opacity="0.85"/>
<circle cx="783.60" cy="71.40" r="3.1" fill="none" stroke="#4a5fc2" stroke-width="1"/>
<path d="M818.00,75.40V78.40M813.80,75.40h8.4M813.80,78.40h8.4" stroke="#4a5fc2" stroke-width="0.9" fill="none" opacity="0.85"/>
<circle cx="818.00" cy="76.90" r="3.1" fill="none" stroke="#4a5fc2" stroke-width="1"/>
<path d="M852.40,80.70V83.70M848.20,80.70h8.4M848.20,83.70h8.4" stroke="#4a5fc2" stroke-width="0.9" fill="none" opacity="0.85"/>
<circle cx="852.40" cy="82.20" r="3.1" fill="none" stroke="#4a5fc2" stroke-width="1"/>
<path d="M886.80,88.00V91.00M882.60,88.00h8.4M882.60,91.00h8.4" stroke="#4a5fc2" stroke-width="0.9" fill="none" opacity="0.85"/>
<circle cx="886.80" cy="89.50" r="3.1" fill="none" stroke="#4a5fc2" stroke-width="1"/>
<path d="M921.20,95.80V98.80M917.00,95.80h8.4M917.00,98.80h8.4" stroke="#4a5fc2" stroke-width="0.9" fill="none" opacity="0.85"/>
<circle cx="921.20" cy="97.30" r="3.1" fill="none" stroke="#4a5fc2" stroke-width="1"/>
<path d="M955.60,103.50V106.50M951.40,103.50h8.4M951.40,106.50h8.4" stroke="#4a5fc2" stroke-width="0.9" fill="none" opacity="0.85"/>
<circle cx="955.60" cy="105.00" r="3.1" fill="none" stroke="#4a5fc2" stroke-width="1"/>
<path d="M990.00,111.90V114.90M985.80,111.90h8.4M985.80,114.90h8.4" stroke="#4a5fc2" stroke-width="0.9" fill="none" opacity="0.85"/>
<circle cx="990.00" cy="113.40" r="3.1" fill="none" stroke="#4a5fc2" stroke-width="1"/>
<path d="M1024.40,120.30V123.30M1020.20,120.30h8.4M1020.20,123.30h8.4" stroke="#4a5fc2" stroke-width="0.9" fill="none" opacity="0.85"/>
<circle cx="1024.40" cy="121.80" r="3.1" fill="none" stroke="#4a5fc2" stroke-width="1"/>
<rect x="977.3" y="14" width="58.299999999999955" height="60.3" fill="#fff" stroke="#3a3a3a" stroke-width="1.1"/>
<path d="M987.40,18.73 L990.70,24.33 L984.10,24.33 Z" fill="#e8141c"/>
<text x="995.60" y="25.2" font-family="Liberation Sans, sans-serif" font-size="11" stroke="#111" stroke-width="0.2">DNA</text><path d="M515 0H696V1409H530L197 1180V1010L515 1237Z" transform="translate(1018.82,25.2) scale(0.00537,-0.00537)" fill="#111" stroke="#111" stroke-width="37.2"/><text x="1024.94" y="25.2" font-family="Liberation Sans, sans-serif" font-size="11" stroke="#111" stroke-width="0.2">B</text>
<rect x="985.20" y="34.70" width="4.4" height="4.4" fill="none" stroke="#2a2a2a" stroke-width="1"/>
<text x="995.6" y="39.90" font-family="Liberation Sans, sans-serif" font-size="11" stroke="#111" stroke-width="0.2">DNA2B</text>
<path d="M987.40,48.00 L990.40,51.40 L987.40,54.80 L984.40,51.40 Z" fill="#5cb53a"/>
<text x="995.6" y="54.40" font-family="Liberation Sans, sans-serif" font-size="11" stroke="#111" stroke-width="0.2">DNA3B</text>
<circle cx="987.40" cy="66.00" r="3.1" fill="none" stroke="#4a5fc2" stroke-width="1"/>
<text x="995.6" y="69.00" font-family="Liberation Sans, sans-serif" font-size="11" stroke="#111" stroke-width="0.2">DNA4B</text>
<path d="M766.5,476.50h3M1041.4,476.50h-3M766.5,452.27h1.6M1041.4,452.27h-1.6M766.5,438.09h1.6M1041.4,438.09h-1.6M766.5,428.03h1.6M1041.4,428.03h-1.6M766.5,420.23h1.6M1041.4,420.23h-1.6M766.5,413.86h1.6M1041.4,413.86h-1.6M766.5,408.47h1.6M1041.4,408.47h-1.6M766.5,403.80h1.6M1041.4,403.80h-1.6M766.5,399.68h1.6M1041.4,399.68h-1.6M766.5,396.00h3M1041.4,396.00h-3M766.5,371.77h1.6M1041.4,371.77h-1.6M766.5,357.59h1.6M1041.4,357.59h-1.6M766.5,347.53h1.6M1041.4,347.53h-1.6M766.5,339.73h1.6M1041.4,339.73h-1.6M766.5,333.36h1.6M1041.4,333.36h-1.6M766.5,327.97h1.6M1041.4,327.97h-1.6M766.5,323.30h1.6M1041.4,323.30h-1.6M766.5,319.18h1.6M1041.4,319.18h-1.6M766.5,315.50h3M1041.4,315.50h-3M766.5,291.27h1.6M1041.4,291.27h-1.6M766.5,277.09h1.6M1041.4,277.09h-1.6M766.5,267.03h1.6M1041.4,267.03h-1.6M818.00,476.5v-3M818.00,267v3M886.80,476.5v-3M886.80,267v3M955.60,476.5v-3M955.60,267v3M1024.40,476.5v-3M1024.40,267v3" stroke="#3a3a3a" stroke-width="1" fill="none"/>
<rect x="766.5" y="267" width="274.9000000000001" height="209.5" fill="none" stroke="#3a3a3a" stroke-width="1.1"/>
<path d="M515 0H696V1409H530L197 1180V1010L515 1237Z" transform="translate(807.99,490.6) scale(0.00586,-0.00586)" fill="#111" stroke="#111" stroke-width="34.1"/><text x="814.66" y="490.6" font-family="Liberation Sans, sans-serif" font-size="12" stroke="#111" stroke-width="0.2">40</text>
<path d="M515 0H696V1409H530L197 1180V1010L515 1237Z" transform="translate(876.79,490.6) scale(0.00586,-0.00586)" fill="#111" stroke="#111" stroke-width="34.1"/><text x="883.46" y="490.6" font-family="Liberation Sans, sans-serif" font-size="12" stroke="#111" stroke-width="0.2">60</text>
<path d="M515 0H696V1409H530L197 1180V1010L515 1237Z" transform="translate(945.59,490.6) scale(0.00586,-0.00586)" fill="#111" stroke="#111" stroke-width="34.1"/><text x="952.26" y="490.6" font-family="Liberation Sans, sans-serif" font-size="12" stroke="#111" stroke-width="0.2">80</text>
<text x="1024.40" y="490.60" font-family="Liberation Sans, sans-serif" font-size="12" text-anchor="middle" stroke="#111" stroke-width="0.2">200</text>
<path d="M515 0H696V1409H530L197 1180V1010L515 1237Z" transform="translate(746.25,481.0) scale(0.00586,-0.00586)" fill="#111" stroke="#111" stroke-width="34.1"/><text x="752.93" y="481.0" font-family="Liberation Sans, sans-serif" font-size="12" stroke="#111" stroke-width="0.2">0</text>
<path d="M515 0H696V1409H530L197 1180V1010L515 1237Z" transform="translate(760.20,473.6) scale(0.00352,-0.00352)" fill="#111" stroke="#111" stroke-width="56.9"/>
<path d="M515 0H696V1409H530L197 1180V1010L515 1237Z" transform="translate(746.25,400.5) scale(0.00586,-0.00586)" fill="#111" stroke="#111" stroke-width="34.1"/><text x="752.93" y="400.5" font-family="Liberation Sans, sans-serif" font-size="12" stroke="#111" stroke-width="0.2">0</text>
<text x="760.20" y="393.10" font-family="Liberation Sans, sans-serif" font-size="7.2" stroke="#111" stroke-width="0.2">2</text>
<path d="M515 0H696V1409H530L197 1180V1010L515 1237Z" transform="translate(746.25,320.0) scale(0.00586,-0.00586)" fill="#111" stroke="#111" stroke-width="34.1"/><text x="752.93" y="320.0" font-family="Liberation Sans, sans-serif" font-size="12" stroke="#111" stroke-width="0.2">0</text>
<text x="760.20" y="312.60" font-family="Liberation Sans, sans-serif" font-size="7.2" stroke="#111" stroke-width="0.2">3</text>
<line x1="783.60" y1="303.31" x2="1024.40" y2="295.69" stroke="#e8141c" stroke-width="0.9" stroke-dasharray="4.4 3.7"/>
<line x1="783.60" y1="364.67" x2="1024.40" y2="342.35" stroke="#2a2a2a" stroke-width="0.9" stroke-dasharray="4.4 3.7"/>
<line x1="783.60" y1="366.43" x2="1024.40" y2="322.42" stroke="#5cb53a" stroke-width="0.9" stroke-dasharray="4.4 3.7"/>
<line x1="783.60" y1="412.07" x2="1024.40" y2="372.66" stroke="#4a5fc2" stroke-width="0.9" stroke-dasharray="4.4 3.7"/>
<path d="M783.60,300.40V304.00M779.40,300.40h8.4M779.40,304.00h8.4" stroke="#e8141c" stroke-width="0.9" fill="none" opacity="0.85"/>
<path d="M783.60,298.73 L786.90,304.33 L780.30,304.33 Z" fill="#e8141c"/>
<path d="M818.00,299.60V303.20M813.80,299.60h8.4M813.80,303.20h8.4" stroke="#e8141c" stroke-width="0.9" fill="none" opacity="0.85"/>
<path d="M818.00,297.93 L821.30,303.53 L814.70,303.53 Z" fill="#e8141c"/>
<path d="M852.40,300.90V304.50M848.20,300.90h8.4M848.20,304.50h8.4" stroke="#e8141c" stroke-width="0.9" fill="none" opacity="0.85"/>
<path d="M852.40,299.23 L855.70,304.83 L849.10,304.83 Z" fill="#e8141c"/>
<path d="M886.80,298.60V302.20M882.60,298.60h8.4M882.60,302.20h8.4" stroke="#e8141c" stroke-width="0.9" fill="none" opacity="0.85"/>
<path d="M886.80,296.93 L890.10,302.53 L883.50,302.53 Z" fill="#e8141c"/>
<path d="M921.20,298.10V301.70M917.00,298.10h8.4M917.00,301.70h8.4" stroke="#e8141c" stroke-width="0.9" fill="none" opacity="0.85"/>
<path d="M921.20,296.43 L924.50,302.03 L917.90,302.03 Z" fill="#e8141c"/>
<path d="M955.60,295.90V299.50M951.40,295.90h8.4M951.40,299.50h8.4" stroke="#e8141c" stroke-width="0.9" fill="none" opacity="0.85"/>
<path d="M955.60,294.23 L958.90,299.83 L952.30,299.83 Z" fill="#e8141c"/>
<path d="M990.00,295.90V299.50M985.80,295.90h8.4M985.80,299.50h8.4" stroke="#e8141c" stroke-width="0.9" fill="none" opacity="0.85"/>
<path d="M990.00,294.23 L993.30,299.83 L986.70,299.83 Z" fill="#e8141c"/>
<path d="M1024.40,292.20V295.80M1020.20,292.20h8.4M1020.20,295.80h8.4" stroke="#e8141c" stroke-width="0.9" fill="none" opacity="0.85"/>
<path d="M1024.40,290.53 L1027.70,296.13 L1021.10,296.13 Z" fill="#e8141c"/>
<path d="M783.60,360.30V364.30M779.40,360.30h8.4M779.40,364.30h8.4" stroke="#2a2a2a" stroke-width="0.9" fill="none" opacity="0.85"/>
<rect x="781.40" y="360.10" width="4.4" height="4.4" fill="none" stroke="#2a2a2a" stroke-width="1"/>
<path d="M818.00,359.80V363.80M813.80,359.80h8.4M813.80,363.80h8.4" stroke="#2a2a2a" stroke-width="0.9" fill="none" opacity="0.85"/>
<rect x="815.80" y="359.60" width="4.4" height="4.4" fill="none" stroke="#2a2a2a" stroke-width="1"/>
<path d="M852.40,356.60V360.60M848.20,356.60h8.4M848.20,360.60h8.4" stroke="#2a2a2a" stroke-width="0.9" fill="none" opacity="0.85"/>
<rect x="850.20" y="356.40" width="4.4" height="4.4" fill="none" stroke="#2a2a2a" stroke-width="1"/>
<path d="M886.80,355.40V359.40M882.60,355.40h8.4M882.60,359.40h8.4" stroke="#2a2a2a" stroke-width="0.9" fill="none" opacity="0.85"/>
<rect x="884.60" y="355.20" width="4.4" height="4.4" fill="none" stroke="#2a2a2a" stroke-width="1"/>
<path d="M921.20,350.30V354.30M917.00,350.30h8.4M917.00,354.30h8.4" stroke="#2a2a2a" stroke-width="0.9" fill="none" opacity="0.85"/>
<rect x="919.00" y="350.10" width="4.4" height="4.4" fill="none" stroke="#2a2a2a" stroke-width="1"/>
<path d="M955.60,348.70V352.70M951.40,348.70h8.4M951.40,352.70h8.4" stroke="#2a2a2a" stroke-width="0.9" fill="none" opacity="0.85"/>
<rect x="953.40" y="348.50" width="4.4" height="4.4" fill="none" stroke="#2a2a2a" stroke-width="1"/>
<path d="M990.00,342.50V346.50M985.80,342.50h8.4M985.80,346.50h8.4" stroke="#2a2a2a" stroke-width="0.9" fill="none" opacity="0.85"/>
<rect x="987.80" y="342.30" width="4.4" height="4.4" fill="none" stroke="#2a2a2a" stroke-width="1"/>
<path d="M1024.40,338.50V342.50M1020.20,338.50h8.4M1020.20,342.50h8.4" stroke="#2a2a2a" stroke-width="0.9" fill="none" opacity="0.85"/>
<rect x="1022.20" y="338.30" width="4.4" height="4.4" fill="none" stroke="#2a2a2a" stroke-width="1"/>
<path d="M783.60,363.10V366.70M779.40,363.10h8.4M779.40,366.70h8.4" stroke="#5cb53a" stroke-width="0.9" fill="none" opacity="0.85"/>
<path d="M783.60,361.50 L786.60,364.90 L783.60,368.30 L780.60,364.90 Z" fill="#5cb53a"/>
<path d="M818.00,358.80V362.40M813.80,358.80h8.4M813.80,362.40h8.4" stroke="#5cb53a" stroke-width="0.9" fill="none" opacity="0.85"/>
<path d="M818.00,357.20 L821.00,360.60 L818.00,364.00 L815.00,360.60 Z" fill="#5cb53a"/>
<path d="M852.40,352.00V355.60M848.20,352.00h8.4M848.20,355.60h8.4" stroke="#5cb53a" stroke-width="0.9" fill="none" opacity="0.85"/>
<path d="M852.40,350.40 L855.40,353.80 L852.40,357.20 L849.40,353.80 Z" fill="#5cb53a"/>
<path d="M886.80,348.00V351.60M882.60,348.00h8.4M882.60,351.60h8.4" stroke="#5cb53a" stroke-width="0.9" fill="none" opacity="0.85"/>
<path d="M886.80,346.40 L889.80,349.80 L886.80,353.20 L883.80,349.80 Z" fill="#5cb53a"/>
<path d="M921.20,341.80V345.40M917.00,341.80h8.4M917.00,345.40h8.4" stroke="#5cb53a" stroke-width="0.9" fill="none" opacity="0.85"/>
<path d="M921.20,340.20 L924.20,343.60 L921.20,347.00 L918.20,343.60 Z" fill="#5cb53a"/>
<path d="M955.60,329.40V333.00M951.40,329.40h8.4M951.40,333.00h8.4" stroke="#5cb53a" stroke-width="0.9" fill="none" opacity="0.85"/>
<path d="M955.60,327.80 L958.60,331.20 L955.60,334.60 L952.60,331.20 Z" fill="#5cb53a"/>
<path d="M990.00,326.90V330.50M985.80,326.90h8.4M985.80,330.50h8.4" stroke="#5cb53a" stroke-width="0.9" fill="none" opacity="0.85"/>
<path d="M990.00,325.30 L993.00,328.70 L990.00,332.10 L987.00,328.70 Z" fill="#5cb53a"/>
<path d="M1024.40,321.00V324.60M1020.20,321.00h8.4M1020.20,324.60h8.4" stroke="#5cb53a" stroke-width="0.9" fill="none" opacity="0.85"/>
<path d="M1024.40,319.40 L1027.40,322.80 L1024.40,326.20 L1021.40,322.80 Z" fill="#5cb53a"/>
<path d="M783.60,411.10V414.10M779.40,411.10h8.4M779.40,414.10h8.4" stroke="#4a5fc2" stroke-width="0.9" fill="none" opacity="0.85"/>
<circle cx="783.60" cy="412.60" r="3.1" fill="none" stroke="#4a5fc2" stroke-width="1"/>
<path d="M818.00,404.00V407.00M813.80,404.00h8.4M813.80,407.00h8.4" stroke="#4a5fc2" stroke-width="0.9" fill="none" opacity="0.85"/>
<circle cx="818.00" cy="405.50" r="3.1" fill="none" stroke="#4a5fc2" stroke-width="1"/>
<path d="M852.40,400.60V403.60M848.20,400.60h8.4M848.20,403.60h8.4" stroke="#4a5fc2" stroke-width="0.9" fill="none" opacity="0.85"/>
<circle cx="852.40" cy="402.10" r="3.1" fill="none" stroke="#4a5fc2" stroke-width="1"/>
<path d="M886.80,394.30V397.30M882.60,394.30h8.4M882.60,397.30h8.4" stroke="#4a5fc2" stroke-width="0.9" fill="none" opacity="0.85"/>
<circle cx="886.80" cy="395.80" r="3.1" fill="none" stroke="#4a5fc2" stroke-width="1"/>
<path d="M921.20,386.10V389.10M917.00,386.10h8.4M917.00,389.10h8.4" stroke="#4a5fc2" stroke-width="0.9" fill="none" opacity="0.85"/>
<circle cx="921.20" cy="387.60" r="3.1" fill="none" stroke="#4a5fc2" stroke-width="1"/>
<path d="M955.60,381.80V384.80M951.40,381.80h8.4M951.40,384.80h8.4" stroke="#4a5fc2" stroke-width="0.9" fill="none" opacity="0.85"/>
<circle cx="955.60" cy="383.30" r="3.1" fill="none" stroke="#4a5fc2" stroke-width="1"/>
<path d="M990.00,376.80V379.80M985.80,376.80h8.4M985.80,379.80h8.4" stroke="#4a5fc2" stroke-width="0.9" fill="none" opacity="0.85"/>
<circle cx="990.00" cy="378.30" r="3.1" fill="none" stroke="#4a5fc2" stroke-width="1"/>
<path d="M1024.40,372.20V375.20M1020.20,372.20h8.4M1020.20,375.20h8.4" stroke="#4a5fc2" stroke-width="0.9" fill="none" opacity="0.85"/>
<circle cx="1024.40" cy="373.70" r="3.1" fill="none" stroke="#4a5fc2" stroke-width="1"/>
<rect x="976.5" y="408.8" width="57.799999999999955" height="61.0" fill="#fff" stroke="#3a3a3a" stroke-width="1.1"/>
<path d="M986.40,413.53 L989.70,419.13 L983.10,419.13 Z" fill="#e8141c"/>
<text x="994.50" y="420.8" font-family="Liberation Sans, sans-serif" font-size="11" stroke="#111" stroke-width="0.2">DNA</text><path d="M515 0H696V1409H530L197 1180V1010L515 1237Z" transform="translate(1017.72,420.8) scale(0.00537,-0.00537)" fill="#111" stroke="#111" stroke-width="37.2"/><text x="1023.84" y="420.8" font-family="Liberation Sans, sans-serif" font-size="11" stroke="#111" stroke-width="0.2">B</text>
<rect x="984.20" y="429.80" width="4.4" height="4.4" fill="none" stroke="#2a2a2a" stroke-width="1"/>
<text x="994.5" y="435.80" font-family="Liberation Sans, sans-serif" font-size="11" stroke="#111" stroke-width="0.2">DNA2B</text>
<path d="M986.40,443.10 L989.40,446.50 L986.40,449.90 L983.40,446.50 Z" fill="#5cb53a"/>
<text x="994.5" y="450.30" font-family="Liberation Sans, sans-serif" font-size="11" stroke="#111" stroke-width="0.2">DNA3B</text>
<circle cx="986.40" cy="461.20" r="3.1" fill="none" stroke="#4a5fc2" stroke-width="1"/>
<text x="994.5" y="465.00" font-family="Liberation Sans, sans-serif" font-size="11" stroke="#111" stroke-width="0.2">DNA4B</text>
<text x="367.3" y="110.0" font-family="Liberation Sans, sans-serif" font-size="15.6" font-style="italic" stroke="#111" stroke-width="0.2">r</text>
<path d="M515 0H696V1409H530L197 1180V1010L515 1237Z" transform="translate(372.40,115.8) scale(0.00503,-0.00503)" fill="#111" stroke="#111" stroke-width="39.8"/>
<text x="370.1" y="366.6" font-family="Liberation Sans, sans-serif" font-size="15.6" font-style="italic" stroke="#111" stroke-width="0.2">r</text>
<text x="373.7" y="372.6" font-family="Liberation Sans, sans-serif" font-size="10.3" stroke="#111" stroke-width="0.2">2</text>
<text x="732.7" y="110.0" font-family="Liberation Sans, sans-serif" font-size="15.6" font-style="italic" stroke="#111" stroke-width="0.2">r</text>
<path d="M515 0H696V1409H530L197 1180V1010L515 1237Z" transform="translate(737.50,115.4) scale(0.00503,-0.00503)" fill="#111" stroke="#111" stroke-width="39.8"/>
<text x="734.9" y="366.6" font-family="Liberation Sans, sans-serif" font-size="15.6" font-style="italic" stroke="#111" stroke-width="0.2">r</text>
<text x="738.8" y="372.6" font-family="Liberation Sans, sans-serif" font-size="10.3" stroke="#111" stroke-width="0.2">2</text>
<text x="538.7" y="509.6" font-family="Liberation Sans, sans-serif" font-size="13.6" text-anchor="middle" stroke="#111" stroke-width="0.2">Voltage (mV)</text>
<text x="909.3" y="509.6" font-family="Liberation Sans, sans-serif" font-size="13.6" text-anchor="middle" stroke="#111" stroke-width="0.2">Voltage (mV)</text>
<text x="17.4" y="17.9" font-family="Liberation Sans, sans-serif" font-size="19.8" font-weight="bold" stroke="#111" stroke-width="0.2">a</text>
<text x="363.3" y="18.8" font-family="Liberation Sans, sans-serif" font-size="20.5" font-weight="bold" stroke="#111" stroke-width="0.2">b</text>
<text x="723.3" y="18.0" font-family="Liberation Sans, sans-serif" font-size="20.5" font-weight="bold" stroke="#111" stroke-width="0.2">c</text>
<text x="384" y="25" font-family="Liberation Sans, sans-serif" font-size="18.5" stroke="#111" stroke-width="0.2">i</text>
<text x="745" y="24.9" font-family="Liberation Sans, sans-serif" font-size="18.5" stroke="#111" stroke-width="0.2">i</text>
<text x="380.3" y="282" font-family="Liberation Sans, sans-serif" font-size="18.5" stroke="#111" stroke-width="0.2">ii</text>
<text x="741.4" y="281.7" font-family="Liberation Sans, sans-serif" font-size="18.5" stroke="#111" stroke-width="0.2">ii</text>
<text x="44.00" y="33.6" font-family="Liberation Sans, sans-serif" font-size="11.4" font-style="italic" stroke="#111" stroke-width="0.2">DNA </text><path d="M412 0H593L867 1409H701L324 1180L289 1000L650 1223Z" transform="translate(71.24,33.6) scale(0.00557,-0.00557)" fill="#111" stroke="#111" stroke-width="35.9"/>
<text transform="translate(0,53.30) scale(1,1.07)" y="0" font-family="Liberation Mono, monospace" font-size="10.2" text-anchor="middle" class="m"><tspan x="72.35" fill="#1a1a1a" stroke="#1a1a1a">5</tspan><tspan x="78.45" fill="#1a1a1a" stroke="#1a1a1a">´</tspan><tspan x="84.55" fill="#1a1a1a" stroke="#1a1a1a">-</tspan><tspan x="90.65" fill="#1a1a1a" stroke="#1a1a1a">1</tspan><tspan x="96.75" fill="#1a1a1a" stroke="#1a1a1a">6</tspan><tspan x="102.85" fill="#1a1a1a" stroke="#1a1a1a">-</tspan><tspan x="108.95" fill="#1a1a1a" stroke="#1a1a1a">T</tspan><tspan x="115.05" fill="#1a1a1a" stroke="#1a1a1a">C</tspan><tspan x="121.15" fill="#1a1a1a" stroke="#1a1a1a">C</tspan><tspan x="127.25" fill="#1a1a1a" stroke="#1a1a1a">A</tspan><tspan x="133.35" fill="#1a1a1a" stroke="#1a1a1a">T</tspan><tspan x="139.45" fill="#1a1a1a" stroke="#1a1a1a">T</tspan><tspan x="145.55" fill="#e8141c" stroke="#e8141c">X</tspan><tspan x="151.65" fill="#e8141c" stroke="#e8141c">X</tspan><tspan x="157.75" fill="#e8141c" stroke="#e8141c">X</tspan><tspan x="163.85" fill="#e8141c" stroke="#e8141c">X</tspan><tspan x="169.95" fill="#e8141c" stroke="#e8141c">X</tspan><tspan x="176.05" fill="#1a1a1a" stroke="#1a1a1a">A</tspan><tspan x="182.15" fill="#1a1a1a" stroke="#1a1a1a">C</tspan><tspan x="188.25" fill="#1a1a1a" stroke="#1a1a1a">T</tspan><tspan x="194.35" fill="#1a1a1a" stroke="#1a1a1a">A</tspan><tspan x="200.45" fill="#1a1a1a" stroke="#1a1a1a">C</tspan><tspan x="206.55" fill="#1a1a1a" stroke="#1a1a1a">T</tspan><tspan x="212.65" fill="#1a1a1a" stroke="#1a1a1a">C</tspan><tspan x="218.75" fill="#4a5fc2" stroke="#4a5fc2">C</tspan><tspan x="224.85" fill="#1a1a1a" stroke="#1a1a1a">G</tspan><tspan x="230.95" fill="#cc4aa6" stroke="#cc4aa6">C</tspan><tspan x="237.05" fill="#5cb53a" stroke="#5cb53a">A</tspan><tspan x="243.15" fill="#1a1a1a" stroke="#1a1a1a">T</tspan><tspan x="249.25" fill="#1a1a1a" stroke="#1a1a1a">G</tspan><tspan x="255.35" fill="#1a1a1a" stroke="#1a1a1a">C</tspan><tspan x="261.45" fill="#1a1a1a" stroke="#1a1a1a">A</tspan><tspan x="267.55" fill="#1a1a1a" stroke="#1a1a1a">G</tspan><tspan x="273.65" fill="#1a1a1a" stroke="#1a1a1a">G</tspan><tspan x="279.75" fill="#1a1a1a" stroke="#1a1a1a">T</tspan><tspan x="285.85" fill="#1a1a1a" stroke="#1a1a1a">A</tspan><tspan x="291.95" fill="#1a1a1a" stroke="#1a1a1a">G</tspan><tspan x="298.05" fill="#1a1a1a" stroke="#1a1a1a">C</tspan><tspan x="304.15" fill="#1a1a1a" stroke="#1a1a1a">C</tspan></text>
<text transform="translate(0,50.90) scale(1,1.07)" y="0" font-family="Liberation Mono, monospace" font-size="10.2" text-anchor="middle" class="m"><tspan x="311.65" fill="#1a1a1a" stroke="#1a1a1a">T</tspan></text>
<text transform="translate(0,53.30) scale(1,1.07)" y="0" font-family="Liberation Mono, monospace" font-size="10.2" text-anchor="middle" class="m"><tspan x="319.65" fill="#1a1a1a" stroke="#1a1a1a">T</tspan></text>
<text x="219.45" y="65.10" font-family="Liberation Mono, monospace" font-size="7.2" text-anchor="middle" fill="#1a1a1a">H</text>
<text transform="translate(0,63.80) scale(1,1.07)" y="0" font-family="Liberation Mono, monospace" font-size="10.2" text-anchor="middle" class="m"><tspan x="224.85" fill="#1a1a1a" stroke="#1a1a1a">C</tspan><tspan x="230.95" fill="#cc4aa6" stroke="#cc4aa6">G</tspan><tspan x="237.05" fill="#5cb53a" stroke="#5cb53a">T</tspan><tspan x="243.15" fill="#1a1a1a" stroke="#1a1a1a">A</tspan><tspan x="249.25" fill="#1a1a1a" stroke="#1a1a1a">C</tspan><tspan x="255.35" fill="#1a1a1a" stroke="#1a1a1a">G</tspan><tspan x="261.45" fill="#1a1a1a" stroke="#1a1a1a">T</tspan><tspan x="267.55" fill="#1a1a1a" stroke="#1a1a1a">C</tspan><tspan x="273.65" fill="#1a1a1a" stroke="#1a1a1a">C</tspan><tspan x="279.75" fill="#1a1a1a" stroke="#1a1a1a">A</tspan><tspan x="285.85" fill="#1a1a1a" stroke="#1a1a1a">T</tspan><tspan x="291.95" fill="#1a1a1a" stroke="#1a1a1a">C</tspan><tspan x="298.05" fill="#1a1a1a" stroke="#1a1a1a">G</tspan><tspan x="304.15" fill="#1a1a1a" stroke="#1a1a1a">G</tspan></text>
<text transform="translate(0,65.20) scale(1,1.07)" y="0" font-family="Liberation Mono, monospace" font-size="10.2" text-anchor="middle" class="m"><tspan x="311.65" fill="#1a1a1a" stroke="#1a1a1a">T</tspan></text>
<text transform="translate(0,64.20) scale(1,1.07)" y="0" font-family="Liberation Mono, monospace" font-size="10.2" text-anchor="middle" class="m"><tspan x="319.65" fill="#1a1a1a" stroke="#1a1a1a">T</tspan></text>
<line x1="145.75" y1="31.30" x2="145.75" y2="41.70" stroke="#111" stroke-width="1"/>
<path d="M143.95,40.10 L147.55,40.10 L145.75,45.70 Z" fill="#111"/>
<line x1="170.15" y1="31.30" x2="170.15" y2="41.70" stroke="#111" stroke-width="1"/>
<path d="M168.35,40.10 L171.95,40.10 L170.15,45.70 Z" fill="#111"/>
<text x="135.61" y="28.25" font-family="Liberation Sans, sans-serif" font-size="10.3" fill="#e8141c">+</text><path d="M515 0H696V1409H530L197 1180V1010L515 1237Z" transform="translate(141.63,28.25) scale(0.00503,-0.00503)" fill="#e8141c"/><text x="147.36" y="28.25" font-family="Liberation Sans, sans-serif" font-size="10.3" fill="#e8141c">2</text>
<text x="169.50" y="28.25" font-family="Liberation Sans, sans-serif" font-size="10.3" text-anchor="middle" fill="#e8141c">+8</text>
<line x1="219.15" y1="14.00" x2="219.15" y2="41.70" stroke="#4a5fc2" stroke-width="1"/>
<path d="M217.35,40.10 L220.95,40.10 L219.15,45.70 Z" fill="#4a5fc2"/>
<text x="222.00" y="11.30" font-family="Liberation Sans, sans-serif" font-size="10.3" text-anchor="middle" fill="#4a5fc2">n=0</text>
<line x1="231.35" y1="19.30" x2="231.35" y2="41.70" stroke="#cc4aa6" stroke-width="1"/>
<path d="M229.55,40.10 L233.15,40.10 L231.35,45.70 Z" fill="#cc4aa6"/>
<text x="230.05" y="17.50" font-family="Liberation Sans, sans-serif" font-size="10.3" fill="#cc4aa6">-2 bp</text>
<line x1="237.35" y1="26.70" x2="237.35" y2="41.70" stroke="#5cb53a" stroke-width="1"/>
<path d="M235.55,40.10 L239.15,40.10 L237.35,45.70 Z" fill="#5cb53a"/>
<text x="236.35" y="27.00" font-family="Liberation Sans, sans-serif" font-size="10.3" fill="#5cb53a">-3 bp</text>
<text x="44.5" y="90" font-family="Liberation Sans, sans-serif" font-size="11.4" font-style="italic" stroke="#111" stroke-width="0.2">DNA 2</text>
<text transform="translate(0,107.90) scale(1,1.07)" y="0" font-family="Liberation Mono, monospace" font-size="10.2" text-anchor="middle" class="m"><tspan x="72.95" fill="#1a1a1a" stroke="#1a1a1a">5</tspan><tspan x="79.05" fill="#1a1a1a" stroke="#1a1a1a">´</tspan><tspan x="85.15" fill="#1a1a1a" stroke="#1a1a1a">-</tspan><tspan x="91.25" fill="#1a1a1a" stroke="#1a1a1a">1</tspan><tspan x="97.35" fill="#1a1a1a" stroke="#1a1a1a">6</tspan><tspan x="103.45" fill="#1a1a1a" stroke="#1a1a1a">-</tspan><tspan x="109.55" fill="#1a1a1a" stroke="#1a1a1a">T</tspan><tspan x="115.65" fill="#1a1a1a" stroke="#1a1a1a">C</tspan><tspan x="121.75" fill="#1a1a1a" stroke="#1a1a1a">C</tspan><tspan x="127.85" fill="#1a1a1a" stroke="#1a1a1a">A</tspan><tspan x="133.95" fill="#1a1a1a" stroke="#1a1a1a">T</tspan><tspan x="140.05" fill="#1a1a1a" stroke="#1a1a1a">T</tspan><tspan x="146.15" fill="#e8141c" stroke="#e8141c">X</tspan><tspan x="152.25" fill="#e8141c" stroke="#e8141c">X</tspan><tspan x="158.35" fill="#e8141c" stroke="#e8141c">X</tspan><tspan x="164.45" fill="#e8141c" stroke="#e8141c">X</tspan><tspan x="170.55" fill="#e8141c" stroke="#e8141c">X</tspan><tspan x="176.65" fill="#1a1a1a" stroke="#1a1a1a">A</tspan><tspan x="182.75" fill="#1a1a1a" stroke="#1a1a1a">C</tspan><tspan x="188.85" fill="#1a1a1a" stroke="#1a1a1a">T</tspan><tspan x="194.95" fill="#1a1a1a" stroke="#1a1a1a">A</tspan><tspan x="201.05" fill="#1a1a1a" stroke="#1a1a1a">C</tspan><tspan x="207.15" fill="#1a1a1a" stroke="#1a1a1a">T</tspan><tspan x="213.25" fill="#1a1a1a" stroke="#1a1a1a">C</tspan><tspan x="219.35" fill="#4a5fc2" stroke="#4a5fc2">A</tspan><tspan x="225.45" fill="#1a1a1a" stroke="#1a1a1a">G</tspan><tspan x="231.55" fill="#cc4aa6" stroke="#cc4aa6">C</tspan><tspan x="237.65" fill="#5cb53a" stroke="#5cb53a">A</tspan><tspan x="243.75" fill="#1a1a1a" stroke="#1a1a1a">T</tspan><tspan x="249.85" fill="#1a1a1a" stroke="#1a1a1a">G</tspan><tspan x="255.95" fill="#1a1a1a" stroke="#1a1a1a">C</tspan><tspan x="262.05" fill="#1a1a1a" stroke="#1a1a1a">A</tspan><tspan x="268.15" fill="#1a1a1a" stroke="#1a1a1a">G</tspan><tspan x="274.25" fill="#1a1a1a" stroke="#1a1a1a">G</tspan><tspan x="280.35" fill="#1a1a1a" stroke="#1a1a1a">T</tspan><tspan x="286.45" fill="#1a1a1a" stroke="#1a1a1a">A</tspan><tspan x="292.55" fill="#1a1a1a" stroke="#1a1a1a">G</tspan><tspan x="298.65" fill="#1a1a1a" stroke="#1a1a1a">C</tspan><tspan x="304.75" fill="#1a1a1a" stroke="#1a1a1a">C</tspan></text>
<text transform="translate(0,105.50) scale(1,1.07)" y="0" font-family="Liberation Mono, monospace" font-size="10.2" text-anchor="middle" class="m"><tspan x="312.25" fill="#1a1a1a" stroke="#1a1a1a">T</tspan></text>
<text transform="translate(0,107.90) scale(1,1.07)" y="0" font-family="Liberation Mono, monospace" font-size="10.2" text-anchor="middle" class="m"><tspan x="320.25" fill="#1a1a1a" stroke="#1a1a1a">T</tspan></text>
<text x="220.05" y="121.60" font-family="Liberation Mono, monospace" font-size="7.2" text-anchor="middle" fill="#1a1a1a">H</text>
<text transform="translate(0,120.30) scale(1,1.07)" y="0" font-family="Liberation Mono, monospace" font-size="10.2" text-anchor="middle" class="m"><tspan x="225.45" fill="#1a1a1a" stroke="#1a1a1a">C</tspan><tspan x="231.55" fill="#cc4aa6" stroke="#cc4aa6">G</tspan><tspan x="237.65" fill="#5cb53a" stroke="#5cb53a">T</tspan><tspan x="243.75" fill="#1a1a1a" stroke="#1a1a1a">A</tspan><tspan x="249.85" fill="#1a1a1a" stroke="#1a1a1a">C</tspan><tspan x="255.95" fill="#1a1a1a" stroke="#1a1a1a">G</tspan><tspan x="262.05" fill="#1a1a1a" stroke="#1a1a1a">T</tspan><tspan x="268.15" fill="#1a1a1a" stroke="#1a1a1a">C</tspan><tspan x="274.25" fill="#1a1a1a" stroke="#1a1a1a">C</tspan><tspan x="280.35" fill="#1a1a1a" stroke="#1a1a1a">A</tspan><tspan x="286.45" fill="#1a1a1a" stroke="#1a1a1a">T</tspan><tspan x="292.55" fill="#1a1a1a" stroke="#1a1a1a">C</tspan><tspan x="298.65" fill="#1a1a1a" stroke="#1a1a1a">G</tspan><tspan x="304.75" fill="#1a1a1a" stroke="#1a1a1a">G</tspan></text>
<text transform="translate(0,121.70) scale(1,1.07)" y="0" font-family="Liberation Mono, monospace" font-size="10.2" text-anchor="middle" class="m"><tspan x="312.25" fill="#1a1a1a" stroke="#1a1a1a">T</tspan></text>
<text transform="translate(0,118.40) scale(1,1.07)" y="0" font-family="Liberation Mono, monospace" font-size="10.2" text-anchor="middle" class="m"><tspan x="320.25" fill="#1a1a1a" stroke="#1a1a1a">T</tspan></text>
<text x="44.5" y="147" font-family="Liberation Sans, sans-serif" font-size="11.4" font-style="italic" stroke="#111" stroke-width="0.2">DNA 3</text>
<text transform="translate(0,164.30) scale(1,1.07)" y="0" font-family="Liberation Mono, monospace" font-size="10.2" text-anchor="middle" class="m"><tspan x="72.95" fill="#1a1a1a" stroke="#1a1a1a">5</tspan><tspan x="79.05" fill="#1a1a1a" stroke="#1a1a1a">´</tspan><tspan x="85.15" fill="#1a1a1a" stroke="#1a1a1a">-</tspan><tspan x="91.25" fill="#1a1a1a" stroke="#1a1a1a">1</tspan><tspan x="97.35" fill="#1a1a1a" stroke="#1a1a1a">6</tspan><tspan x="103.45" fill="#1a1a1a" stroke="#1a1a1a">-</tspan><tspan x="109.55" fill="#1a1a1a" stroke="#1a1a1a">T</tspan><tspan x="115.65" fill="#1a1a1a" stroke="#1a1a1a">C</tspan><tspan x="121.75" fill="#1a1a1a" stroke="#1a1a1a">C</tspan><tspan x="127.85" fill="#1a1a1a" stroke="#1a1a1a">A</tspan><tspan x="133.95" fill="#1a1a1a" stroke="#1a1a1a">T</tspan><tspan x="140.05" fill="#1a1a1a" stroke="#1a1a1a">T</tspan><tspan x="146.15" fill="#e8141c" stroke="#e8141c">X</tspan><tspan x="152.25" fill="#e8141c" stroke="#e8141c">X</tspan><tspan x="158.35" fill="#e8141c" stroke="#e8141c">X</tspan><tspan x="164.45" fill="#e8141c" stroke="#e8141c">X</tspan><tspan x="170.55" fill="#e8141c" stroke="#e8141c">X</tspan><tspan x="176.65" fill="#1a1a1a" stroke="#1a1a1a">A</tspan><tspan x="182.75" fill="#1a1a1a" stroke="#1a1a1a">C</tspan><tspan x="188.85" fill="#1a1a1a" stroke="#1a1a1a">T</tspan><tspan x="194.95" fill="#1a1a1a" stroke="#1a1a1a">A</tspan><tspan x="201.05" fill="#1a1a1a" stroke="#1a1a1a">C</tspan><tspan x="207.15" fill="#1a1a1a" stroke="#1a1a1a">T</tspan><tspan x="213.25" fill="#1a1a1a" stroke="#1a1a1a">C</tspan><tspan x="219.35" fill="#4a5fc2" stroke="#4a5fc2">C</tspan><tspan x="225.45" fill="#1a1a1a" stroke="#1a1a1a">G</tspan><tspan x="231.55" fill="#cc4aa6" stroke="#cc4aa6">A</tspan><tspan x="237.65" fill="#5cb53a" stroke="#5cb53a">A</tspan><tspan x="243.75" fill="#1a1a1a" stroke="#1a1a1a">T</tspan><tspan x="249.85" fill="#1a1a1a" stroke="#1a1a1a">G</tspan><tspan x="255.95" fill="#1a1a1a" stroke="#1a1a1a">C</tspan><tspan x="262.05" fill="#1a1a1a" stroke="#1a1a1a">A</tspan><tspan x="268.15" fill="#1a1a1a" stroke="#1a1a1a">G</tspan><tspan x="274.25" fill="#1a1a1a" stroke="#1a1a1a">G</tspan><tspan x="280.35" fill="#1a1a1a" stroke="#1a1a1a">T</tspan><tspan x="286.45" fill="#1a1a1a" stroke="#1a1a1a">A</tspan><tspan x="292.55" fill="#1a1a1a" stroke="#1a1a1a">G</tspan><tspan x="298.65" fill="#1a1a1a" stroke="#1a1a1a">C</tspan><tspan x="304.75" fill="#1a1a1a" stroke="#1a1a1a">C</tspan></text>
<text transform="translate(0,161.90) scale(1,1.07)" y="0" font-family="Liberation Mono, monospace" font-size="10.2" text-anchor="middle" class="m"><tspan x="312.25" fill="#1a1a1a" stroke="#1a1a1a">T</tspan></text>
<text transform="translate(0,164.30) scale(1,1.07)" y="0" font-family="Liberation Mono, monospace" font-size="10.2" text-anchor="middle" class="m"><tspan x="320.25" fill="#1a1a1a" stroke="#1a1a1a">T</tspan></text>
<text x="220.05" y="178.00" font-family="Liberation Mono, monospace" font-size="7.2" text-anchor="middle" fill="#1a1a1a">H</text>
<text transform="translate(0,176.70) scale(1,1.07)" y="0" font-family="Liberation Mono, monospace" font-size="10.2" text-anchor="middle" class="m"><tspan x="225.45" fill="#1a1a1a" stroke="#1a1a1a">C</tspan><tspan x="231.55" fill="#cc4aa6" stroke="#cc4aa6">T</tspan><tspan x="237.65" fill="#5cb53a" stroke="#5cb53a">T</tspan><tspan x="243.75" fill="#1a1a1a" stroke="#1a1a1a">A</tspan><tspan x="249.85" fill="#1a1a1a" stroke="#1a1a1a">C</tspan><tspan x="255.95" fill="#1a1a1a" stroke="#1a1a1a">G</tspan><tspan x="262.05" fill="#1a1a1a" stroke="#1a1a1a">T</tspan><tspan x="268.15" fill="#1a1a1a" stroke="#1a1a1a">C</tspan><tspan x="274.25" fill="#1a1a1a" stroke="#1a1a1a">C</tspan><tspan x="280.35" fill="#1a1a1a" stroke="#1a1a1a">A</tspan><tspan x="286.45" fill="#1a1a1a" stroke="#1a1a1a">T</tspan><tspan x="292.55" fill="#1a1a1a" stroke="#1a1a1a">C</tspan><tspan x="298.65" fill="#1a1a1a" stroke="#1a1a1a">G</tspan><tspan x="304.75" fill="#1a1a1a" stroke="#1a1a1a">G</tspan></text>
<text transform="translate(0,178.10) scale(1,1.07)" y="0" font-family="Liberation Mono, monospace" font-size="10.2" text-anchor="middle" class="m"><tspan x="312.25" fill="#1a1a1a" stroke="#1a1a1a">T</tspan></text>
<text transform="translate(0,174.80) scale(1,1.07)" y="0" font-family="Liberation Mono, monospace" font-size="10.2" text-anchor="middle" class="m"><tspan x="320.25" fill="#1a1a1a" stroke="#1a1a1a">T</tspan></text>
<text x="44.5" y="203" font-family="Liberation Sans, sans-serif" font-size="11.4" font-style="italic" stroke="#111" stroke-width="0.2">DNA 4</text>
<text transform="translate(0,222.30) scale(1,1.07)" y="0" font-family="Liberation Mono, monospace" font-size="10.2" text-anchor="middle" class="m"><tspan x="72.95" fill="#1a1a1a" stroke="#1a1a1a">5</tspan><tspan x="79.05" fill="#1a1a1a" stroke="#1a1a1a">´</tspan><tspan x="85.15" fill="#1a1a1a" stroke="#1a1a1a">-</tspan><tspan x="91.25" fill="#1a1a1a" stroke="#1a1a1a">1</tspan><tspan x="97.35" fill="#1a1a1a" stroke="#1a1a1a">6</tspan><tspan x="103.45" fill="#1a1a1a" stroke="#1a1a1a">-</tspan><tspan x="109.55" fill="#1a1a1a" stroke="#1a1a1a">T</tspan><tspan x="115.65" fill="#1a1a1a" stroke="#1a1a1a">C</tspan><tspan x="121.75" fill="#1a1a1a" stroke="#1a1a1a">C</tspan><tspan x="127.85" fill="#1a1a1a" stroke="#1a1a1a">A</tspan><tspan x="133.95" fill="#1a1a1a" stroke="#1a1a1a">T</tspan><tspan x="140.05" fill="#1a1a1a" stroke="#1a1a1a">T</tspan><tspan x="146.15" fill="#e8141c" stroke="#e8141c">X</tspan><tspan x="152.25" fill="#e8141c" stroke="#e8141c">X</tspan><tspan x="158.35" fill="#e8141c" stroke="#e8141c">X</tspan><tspan x="164.45" fill="#e8141c" stroke="#e8141c">X</tspan><tspan x="170.55" fill="#e8141c" stroke="#e8141c">X</tspan><tspan x="176.65" fill="#1a1a1a" stroke="#1a1a1a">A</tspan><tspan x="182.75" fill="#1a1a1a" stroke="#1a1a1a">C</tspan><tspan x="188.85" fill="#1a1a1a" stroke="#1a1a1a">T</tspan><tspan x="194.95" fill="#1a1a1a" stroke="#1a1a1a">A</tspan><tspan x="201.05" fill="#1a1a1a" stroke="#1a1a1a">C</tspan><tspan x="207.15" fill="#1a1a1a" stroke="#1a1a1a">T</tspan><tspan x="213.25" fill="#1a1a1a" stroke="#1a1a1a">C</tspan><tspan x="219.35" fill="#4a5fc2" stroke="#4a5fc2">A</tspan><tspan x="225.45" fill="#1a1a1a" stroke="#1a1a1a">G</tspan><tspan x="231.55" fill="#cc4aa6" stroke="#cc4aa6">A</tspan><tspan x="237.65" fill="#5cb53a" stroke="#5cb53a">A</tspan><tspan x="243.75" fill="#1a1a1a" stroke="#1a1a1a">T</tspan><tspan x="249.85" fill="#1a1a1a" stroke="#1a1a1a">G</tspan><tspan x="255.95" fill="#1a1a1a" stroke="#1a1a1a">C</tspan><tspan x="262.05" fill="#1a1a1a" stroke="#1a1a1a">A</tspan><tspan x="268.15" fill="#1a1a1a" stroke="#1a1a1a">G</tspan><tspan x="274.25" fill="#1a1a1a" stroke="#1a1a1a">G</tspan><tspan x="280.35" fill="#1a1a1a" stroke="#1a1a1a">T</tspan><tspan x="286.45" fill="#1a1a1a" stroke="#1a1a1a">A</tspan><tspan x="292.55" fill="#1a1a1a" stroke="#1a1a1a">G</tspan><tspan x="298.65" fill="#1a1a1a" stroke="#1a1a1a">C</tspan><tspan x="304.75" fill="#1a1a1a" stroke="#1a1a1a">C</tspan></text>
<text transform="translate(0,219.90) scale(1,1.07)" y="0" font-family="Liberation Mono, monospace" font-size="10.2" text-anchor="middle" class="m"><tspan x="312.25" fill="#1a1a1a" stroke="#1a1a1a">T</tspan></text>
<text transform="translate(0,222.30) scale(1,1.07)" y="0" font-family="Liberation Mono, monospace" font-size="10.2" text-anchor="middle" class="m"><tspan x="320.25" fill="#1a1a1a" stroke="#1a1a1a">T</tspan></text>
<text x="220.05" y="236.00" font-family="Liberation Mono, monospace" font-size="7.2" text-anchor="middle" fill="#1a1a1a">H</text>
<text transform="translate(0,234.70) scale(1,1.07)" y="0" font-family="Liberation Mono, monospace" font-size="10.2" text-anchor="middle" class="m"><tspan x="225.45" fill="#1a1a1a" stroke="#1a1a1a">C</tspan><tspan x="231.55" fill="#cc4aa6" stroke="#cc4aa6">T</tspan><tspan x="237.65" fill="#5cb53a" stroke="#5cb53a">T</tspan><tspan x="243.75" fill="#1a1a1a" stroke="#1a1a1a">A</tspan><tspan x="249.85" fill="#1a1a1a" stroke="#1a1a1a">C</tspan><tspan x="255.95" fill="#1a1a1a" stroke="#1a1a1a">G</tspan><tspan x="262.05" fill="#1a1a1a" stroke="#1a1a1a">T</tspan><tspan x="268.15" fill="#1a1a1a" stroke="#1a1a1a">C</tspan><tspan x="274.25" fill="#1a1a1a" stroke="#1a1a1a">C</tspan><tspan x="280.35" fill="#1a1a1a" stroke="#1a1a1a">A</tspan><tspan x="286.45" fill="#1a1a1a" stroke="#1a1a1a">T</tspan><tspan x="292.55" fill="#1a1a1a" stroke="#1a1a1a">C</tspan><tspan x="298.65" fill="#1a1a1a" stroke="#1a1a1a">G</tspan><tspan x="304.75" fill="#1a1a1a" stroke="#1a1a1a">G</tspan></text>
<text transform="translate(0,236.10) scale(1,1.07)" y="0" font-family="Liberation Mono, monospace" font-size="10.2" text-anchor="middle" class="m"><tspan x="312.25" fill="#1a1a1a" stroke="#1a1a1a">T</tspan></text>
<text transform="translate(0,232.80) scale(1,1.07)" y="0" font-family="Liberation Mono, monospace" font-size="10.2" text-anchor="middle" class="m"><tspan x="320.25" fill="#1a1a1a" stroke="#1a1a1a">T</tspan></text>
<text x="40.40" y="305.7" font-family="Liberation Sans, sans-serif" font-size="11.4" font-style="italic" stroke="#111" stroke-width="0.2">DNA </text><path d="M412 0H593L867 1409H701L324 1180L289 1000L650 1223Z" transform="translate(67.64,305.7) scale(0.00557,-0.00557)" fill="#111" stroke="#111" stroke-width="35.9"/><text x="73.98" y="305.7" font-family="Liberation Sans, sans-serif" font-size="11.4" font-style="italic" stroke="#111" stroke-width="0.2">B</text>
<text transform="translate(0,324.10) scale(1,1.07)" y="0" font-family="Liberation Mono, monospace" font-size="10.2" text-anchor="middle" class="m"><tspan x="68.85" fill="#1a1a1a" stroke="#1a1a1a">5</tspan><tspan x="74.95" fill="#1a1a1a" stroke="#1a1a1a">´</tspan><tspan x="81.05" fill="#1a1a1a" stroke="#1a1a1a">-</tspan><tspan x="87.15" fill="#1a1a1a" stroke="#1a1a1a">1</tspan><tspan x="93.25" fill="#1a1a1a" stroke="#1a1a1a">6</tspan><tspan x="99.35" fill="#1a1a1a" stroke="#1a1a1a">-</tspan><tspan x="105.45" fill="#1a1a1a" stroke="#1a1a1a">T</tspan><tspan x="111.55" fill="#1a1a1a" stroke="#1a1a1a">C</tspan><tspan x="117.65" fill="#1a1a1a" stroke="#1a1a1a">C</tspan><tspan x="123.75" fill="#1a1a1a" stroke="#1a1a1a">A</tspan><tspan x="129.85" fill="#1a1a1a" stroke="#1a1a1a">T</tspan><tspan x="135.95" fill="#1a1a1a" stroke="#1a1a1a">T</tspan><tspan x="142.05" fill="#e8141c" stroke="#e8141c">X</tspan><tspan x="148.15" fill="#e8141c" stroke="#e8141c">X</tspan><tspan x="154.25" fill="#e8141c" stroke="#e8141c">X</tspan><tspan x="160.35" fill="#e8141c" stroke="#e8141c">X</tspan><tspan x="166.45" fill="#e8141c" stroke="#e8141c">X</tspan><tspan x="172.55" fill="#1a1a1a" stroke="#1a1a1a">A</tspan><tspan x="178.65" fill="#1a1a1a" stroke="#1a1a1a">C</tspan><tspan x="184.75" fill="#1a1a1a" stroke="#1a1a1a">T</tspan><tspan x="190.85" fill="#1a1a1a" stroke="#1a1a1a">A</tspan><tspan x="196.95" fill="#1a1a1a" stroke="#1a1a1a">C</tspan><tspan x="203.05" fill="#1a1a1a" stroke="#1a1a1a">T</tspan><tspan x="209.15" fill="#1a1a1a" stroke="#1a1a1a">C</tspan><tspan x="215.25" fill="#4a5fc2" stroke="#4a5fc2">C</tspan><tspan x="221.35" fill="#1a1a1a" stroke="#1a1a1a">G</tspan><tspan x="227.45" fill="#cc4aa6" stroke="#cc4aa6">C</tspan><tspan x="233.55" fill="#5cb53a" stroke="#5cb53a">C</tspan><tspan x="239.65" fill="#1a1a1a" stroke="#1a1a1a">T</tspan><tspan x="245.75" fill="#1a1a1a" stroke="#1a1a1a">G</tspan><tspan x="251.85" fill="#1a1a1a" stroke="#1a1a1a">C</tspan><tspan x="257.95" fill="#1a1a1a" stroke="#1a1a1a">A</tspan><tspan x="264.05" fill="#1a1a1a" stroke="#1a1a1a">G</tspan><tspan x="270.15" fill="#1a1a1a" stroke="#1a1a1a">G</tspan><tspan x="276.25" fill="#1a1a1a" stroke="#1a1a1a">T</tspan><tspan x="282.35" fill="#1a1a1a" stroke="#1a1a1a">A</tspan><tspan x="288.45" fill="#1a1a1a" stroke="#1a1a1a">G</tspan><tspan x="294.55" fill="#1a1a1a" stroke="#1a1a1a">C</tspan><tspan x="300.65" fill="#1a1a1a" stroke="#1a1a1a">C</tspan></text>
<text transform="translate(0,321.70) scale(1,1.07)" y="0" font-family="Liberation Mono, monospace" font-size="10.2" text-anchor="middle" class="m"><tspan x="308.15" fill="#1a1a1a" stroke="#1a1a1a">T</tspan></text>
<text transform="translate(0,324.10) scale(1,1.07)" y="0" font-family="Liberation Mono, monospace" font-size="10.2" text-anchor="middle" class="m"><tspan x="316.15" fill="#1a1a1a" stroke="#1a1a1a">T</tspan></text>
<text x="215.95" y="337.80" font-family="Liberation Mono, monospace" font-size="7.2" text-anchor="middle" fill="#1a1a1a">H</text>
<text transform="translate(0,336.50) scale(1,1.07)" y="0" font-family="Liberation Mono, monospace" font-size="10.2" text-anchor="middle" class="m"><tspan x="221.35" fill="#1a1a1a" stroke="#1a1a1a">C</tspan><tspan x="227.45" fill="#cc4aa6" stroke="#cc4aa6">G</tspan><tspan x="233.55" fill="#5cb53a" stroke="#5cb53a">G</tspan><tspan x="239.65" fill="#1a1a1a" stroke="#1a1a1a">A</tspan><tspan x="245.75" fill="#1a1a1a" stroke="#1a1a1a">C</tspan><tspan x="251.85" fill="#1a1a1a" stroke="#1a1a1a">G</tspan><tspan x="257.95" fill="#1a1a1a" stroke="#1a1a1a">T</tspan><tspan x="264.05" fill="#1a1a1a" stroke="#1a1a1a">C</tspan><tspan x="270.15" fill="#1a1a1a" stroke="#1a1a1a">C</tspan><tspan x="276.25" fill="#1a1a1a" stroke="#1a1a1a">A</tspan><tspan x="282.35" fill="#1a1a1a" stroke="#1a1a1a">T</tspan><tspan x="288.45" fill="#1a1a1a" stroke="#1a1a1a">C</tspan><tspan x="294.55" fill="#1a1a1a" stroke="#1a1a1a">G</tspan><tspan x="300.65" fill="#1a1a1a" stroke="#1a1a1a">G</tspan></text>
<text transform="translate(0,337.90) scale(1,1.07)" y="0" font-family="Liberation Mono, monospace" font-size="10.2" text-anchor="middle" class="m"><tspan x="308.15" fill="#1a1a1a" stroke="#1a1a1a">T</tspan></text>
<text transform="translate(0,334.60) scale(1,1.07)" y="0" font-family="Liberation Mono, monospace" font-size="10.2" text-anchor="middle" class="m"><tspan x="316.15" fill="#1a1a1a" stroke="#1a1a1a">T</tspan></text>
<line x1="142.25" y1="302.10" x2="142.25" y2="312.50" stroke="#111" stroke-width="1"/>
<path d="M140.45,310.90 L144.05,310.90 L142.25,316.50 Z" fill="#111"/>
<line x1="166.65" y1="302.10" x2="166.65" y2="312.50" stroke="#111" stroke-width="1"/>
<path d="M164.85,310.90 L168.45,310.90 L166.65,316.50 Z" fill="#111"/>
<text x="132.11" y="299.05" font-family="Liberation Sans, sans-serif" font-size="10.3" fill="#e8141c">+</text><path d="M515 0H696V1409H530L197 1180V1010L515 1237Z" transform="translate(138.13,299.05) scale(0.00503,-0.00503)" fill="#e8141c"/><text x="143.86" y="299.05" font-family="Liberation Sans, sans-serif" font-size="10.3" fill="#e8141c">2</text>
<text x="166.00" y="299.05" font-family="Liberation Sans, sans-serif" font-size="10.3" text-anchor="middle" fill="#e8141c">+8</text>
<line x1="215.65" y1="285.70" x2="215.65" y2="312.50" stroke="#4a5fc2" stroke-width="1"/>
<path d="M213.85,310.90 L217.45,310.90 L215.65,316.50 Z" fill="#4a5fc2"/>
<text x="216.55" y="284.60" font-family="Liberation Sans, sans-serif" font-size="10.3" text-anchor="middle" fill="#4a5fc2">n=0</text>
<line x1="227.85" y1="290.70" x2="227.85" y2="312.50" stroke="#cc4aa6" stroke-width="1"/>
<path d="M226.05,310.90 L229.65,310.90 L227.85,316.50 Z" fill="#cc4aa6"/>
<text x="226.55" y="289.00" font-family="Liberation Sans, sans-serif" font-size="10.3" fill="#cc4aa6">-2 bp</text>
<line x1="233.85" y1="298.00" x2="233.85" y2="312.50" stroke="#5cb53a" stroke-width="1"/>
<path d="M232.05,310.90 L235.65,310.90 L233.85,316.50 Z" fill="#5cb53a"/>
<text x="232.85" y="298.80" font-family="Liberation Sans, sans-serif" font-size="10.3" fill="#5cb53a">-3 bp</text>
<text x="40.8" y="362.6" font-family="Liberation Sans, sans-serif" font-size="11.4" font-style="italic" stroke="#111" stroke-width="0.2">DNA 2B</text>
<text transform="translate(0,380.10) scale(1,1.07)" y="0" font-family="Liberation Mono, monospace" font-size="10.2" text-anchor="middle" class="m"><tspan x="69.25" fill="#1a1a1a" stroke="#1a1a1a">5</tspan><tspan x="75.35" fill="#1a1a1a" stroke="#1a1a1a">´</tspan><tspan x="81.45" fill="#1a1a1a" stroke="#1a1a1a">-</tspan><tspan x="87.55" fill="#1a1a1a" stroke="#1a1a1a">1</tspan><tspan x="93.65" fill="#1a1a1a" stroke="#1a1a1a">6</tspan><tspan x="99.75" fill="#1a1a1a" stroke="#1a1a1a">-</tspan><tspan x="105.85" fill="#1a1a1a" stroke="#1a1a1a">T</tspan><tspan x="111.95" fill="#1a1a1a" stroke="#1a1a1a">C</tspan><tspan x="118.05" fill="#1a1a1a" stroke="#1a1a1a">C</tspan><tspan x="124.15" fill="#1a1a1a" stroke="#1a1a1a">A</tspan><tspan x="130.25" fill="#1a1a1a" stroke="#1a1a1a">T</tspan><tspan x="136.35" fill="#1a1a1a" stroke="#1a1a1a">T</tspan><tspan x="142.45" fill="#e8141c" stroke="#e8141c">X</tspan><tspan x="148.55" fill="#e8141c" stroke="#e8141c">X</tspan><tspan x="154.65" fill="#e8141c" stroke="#e8141c">X</tspan><tspan x="160.75" fill="#e8141c" stroke="#e8141c">X</tspan><tspan x="166.85" fill="#e8141c" stroke="#e8141c">X</tspan><tspan x="172.95" fill="#1a1a1a" stroke="#1a1a1a">A</tspan><tspan x="179.05" fill="#1a1a1a" stroke="#1a1a1a">C</tspan><tspan x="185.15" fill="#1a1a1a" stroke="#1a1a1a">T</tspan><tspan x="191.25" fill="#1a1a1a" stroke="#1a1a1a">A</tspan><tspan x="197.35" fill="#1a1a1a" stroke="#1a1a1a">C</tspan><tspan x="203.45" fill="#1a1a1a" stroke="#1a1a1a">T</tspan><tspan x="209.55" fill="#1a1a1a" stroke="#1a1a1a">C</tspan><tspan x="215.65" fill="#4a5fc2" stroke="#4a5fc2">A</tspan><tspan x="221.75" fill="#1a1a1a" stroke="#1a1a1a">G</tspan><tspan x="227.85" fill="#cc4aa6" stroke="#cc4aa6">C</tspan><tspan x="233.95" fill="#5cb53a" stroke="#5cb53a">C</tspan><tspan x="240.05" fill="#1a1a1a" stroke="#1a1a1a">T</tspan><tspan x="246.15" fill="#1a1a1a" stroke="#1a1a1a">G</tspan><tspan x="252.25" fill="#1a1a1a" stroke="#1a1a1a">C</tspan><tspan x="258.35" fill="#1a1a1a" stroke="#1a1a1a">A</tspan><tspan x="264.45" fill="#1a1a1a" stroke="#1a1a1a">G</tspan><tspan x="270.55" fill="#1a1a1a" stroke="#1a1a1a">G</tspan><tspan x="276.65" fill="#1a1a1a" stroke="#1a1a1a">T</tspan><tspan x="282.75" fill="#1a1a1a" stroke="#1a1a1a">A</tspan><tspan x="288.85" fill="#1a1a1a" stroke="#1a1a1a">G</tspan><tspan x="294.95" fill="#1a1a1a" stroke="#1a1a1a">C</tspan><tspan x="301.05" fill="#1a1a1a" stroke="#1a1a1a">C</tspan></text>
<text transform="translate(0,377.70) scale(1,1.07)" y="0" font-family="Liberation Mono, monospace" font-size="10.2" text-anchor="middle" class="m"><tspan x="308.55" fill="#1a1a1a" stroke="#1a1a1a">T</tspan></text>
<text transform="translate(0,380.10) scale(1,1.07)" y="0" font-family="Liberation Mono, monospace" font-size="10.2" text-anchor="middle" class="m"><tspan x="316.55" fill="#1a1a1a" stroke="#1a1a1a">T</tspan></text>
<text x="216.35" y="393.80" font-family="Liberation Mono, monospace" font-size="7.2" text-anchor="middle" fill="#1a1a1a">H</text>
<text transform="translate(0,392.50) scale(1,1.07)" y="0" font-family="Liberation Mono, monospace" font-size="10.2" text-anchor="middle" class="m"><tspan x="221.75" fill="#1a1a1a" stroke="#1a1a1a">C</tspan><tspan x="227.85" fill="#cc4aa6" stroke="#cc4aa6">G</tspan><tspan x="233.95" fill="#5cb53a" stroke="#5cb53a">G</tspan><tspan x="240.05" fill="#1a1a1a" stroke="#1a1a1a">A</tspan><tspan x="246.15" fill="#1a1a1a" stroke="#1a1a1a">C</tspan><tspan x="252.25" fill="#1a1a1a" stroke="#1a1a1a">G</tspan><tspan x="258.35" fill="#1a1a1a" stroke="#1a1a1a">T</tspan><tspan x="264.45" fill="#1a1a1a" stroke="#1a1a1a">C</tspan><tspan x="270.55" fill="#1a1a1a" stroke="#1a1a1a">C</tspan><tspan x="276.65" fill="#1a1a1a" stroke="#1a1a1a">A</tspan><tspan x="282.75" fill="#1a1a1a" stroke="#1a1a1a">T</tspan><tspan x="288.85" fill="#1a1a1a" stroke="#1a1a1a">C</tspan><tspan x="294.95" fill="#1a1a1a" stroke="#1a1a1a">G</tspan><tspan x="301.05" fill="#1a1a1a" stroke="#1a1a1a">G</tspan></text>
<text transform="translate(0,393.90) scale(1,1.07)" y="0" font-family="Liberation Mono, monospace" font-size="10.2" text-anchor="middle" class="m"><tspan x="308.55" fill="#1a1a1a" stroke="#1a1a1a">T</tspan></text>
<text transform="translate(0,390.60) scale(1,1.07)" y="0" font-family="Liberation Mono, monospace" font-size="10.2" text-anchor="middle" class="m"><tspan x="316.55" fill="#1a1a1a" stroke="#1a1a1a">T</tspan></text>
<text x="40.8" y="419.5" font-family="Liberation Sans, sans-serif" font-size="11.4" font-style="italic" stroke="#111" stroke-width="0.2">DNA 3B</text>
<text transform="translate(0,436.50) scale(1,1.07)" y="0" font-family="Liberation Mono, monospace" font-size="10.2" text-anchor="middle" class="m"><tspan x="69.25" fill="#1a1a1a" stroke="#1a1a1a">5</tspan><tspan x="75.35" fill="#1a1a1a" stroke="#1a1a1a">´</tspan><tspan x="81.45" fill="#1a1a1a" stroke="#1a1a1a">-</tspan><tspan x="87.55" fill="#1a1a1a" stroke="#1a1a1a">1</tspan><tspan x="93.65" fill="#1a1a1a" stroke="#1a1a1a">6</tspan><tspan x="99.75" fill="#1a1a1a" stroke="#1a1a1a">-</tspan><tspan x="105.85" fill="#1a1a1a" stroke="#1a1a1a">T</tspan><tspan x="111.95" fill="#1a1a1a" stroke="#1a1a1a">C</tspan><tspan x="118.05" fill="#1a1a1a" stroke="#1a1a1a">C</tspan><tspan x="124.15" fill="#1a1a1a" stroke="#1a1a1a">A</tspan><tspan x="130.25" fill="#1a1a1a" stroke="#1a1a1a">T</tspan><tspan x="136.35" fill="#1a1a1a" stroke="#1a1a1a">T</tspan><tspan x="142.45" fill="#e8141c" stroke="#e8141c">X</tspan><tspan x="148.55" fill="#e8141c" stroke="#e8141c">X</tspan><tspan x="154.65" fill="#e8141c" stroke="#e8141c">X</tspan><tspan x="160.75" fill="#e8141c" stroke="#e8141c">X</tspan><tspan x="166.85" fill="#e8141c" stroke="#e8141c">X</tspan><tspan x="172.95" fill="#1a1a1a" stroke="#1a1a1a">A</tspan><tspan x="179.05" fill="#1a1a1a" stroke="#1a1a1a">C</tspan><tspan x="185.15" fill="#1a1a1a" stroke="#1a1a1a">T</tspan><tspan x="191.25" fill="#1a1a1a" stroke="#1a1a1a">A</tspan><tspan x="197.35" fill="#1a1a1a" stroke="#1a1a1a">C</tspan><tspan x="203.45" fill="#1a1a1a" stroke="#1a1a1a">T</tspan><tspan x="209.55" fill="#1a1a1a" stroke="#1a1a1a">C</tspan><tspan x="215.65" fill="#4a5fc2" stroke="#4a5fc2">C</tspan><tspan x="221.75" fill="#1a1a1a" stroke="#1a1a1a">G</tspan><tspan x="227.85" fill="#cc4aa6" stroke="#cc4aa6">A</tspan><tspan x="233.95" fill="#5cb53a" stroke="#5cb53a">C</tspan><tspan x="240.05" fill="#1a1a1a" stroke="#1a1a1a">T</tspan><tspan x="246.15" fill="#1a1a1a" stroke="#1a1a1a">G</tspan><tspan x="252.25" fill="#1a1a1a" stroke="#1a1a1a">C</tspan><tspan x="258.35" fill="#1a1a1a" stroke="#1a1a1a">A</tspan><tspan x="264.45" fill="#1a1a1a" stroke="#1a1a1a">G</tspan><tspan x="270.55" fill="#1a1a1a" stroke="#1a1a1a">G</tspan><tspan x="276.65" fill="#1a1a1a" stroke="#1a1a1a">T</tspan><tspan x="282.75" fill="#1a1a1a" stroke="#1a1a1a">A</tspan><tspan x="288.85" fill="#1a1a1a" stroke="#1a1a1a">G</tspan><tspan x="294.95" fill="#1a1a1a" stroke="#1a1a1a">C</tspan><tspan x="301.05" fill="#1a1a1a" stroke="#1a1a1a">C</tspan></text>
<text transform="translate(0,434.10) scale(1,1.07)" y="0" font-family="Liberation Mono, monospace" font-size="10.2" text-anchor="middle" class="m"><tspan x="308.55" fill="#1a1a1a" stroke="#1a1a1a">T</tspan></text>
<text transform="translate(0,436.50) scale(1,1.07)" y="0" font-family="Liberation Mono, monospace" font-size="10.2" text-anchor="middle" class="m"><tspan x="316.55" fill="#1a1a1a" stroke="#1a1a1a">T</tspan></text>
<text x="216.35" y="450.20" font-family="Liberation Mono, monospace" font-size="7.2" text-anchor="middle" fill="#1a1a1a">H</text>
<text transform="translate(0,448.90) scale(1,1.07)" y="0" font-family="Liberation Mono, monospace" font-size="10.2" text-anchor="middle" class="m"><tspan x="221.75" fill="#1a1a1a" stroke="#1a1a1a">C</tspan><tspan x="227.85" fill="#cc4aa6" stroke="#cc4aa6">T</tspan><tspan x="233.95" fill="#5cb53a" stroke="#5cb53a">G</tspan><tspan x="240.05" fill="#1a1a1a" stroke="#1a1a1a">A</tspan><tspan x="246.15" fill="#1a1a1a" stroke="#1a1a1a">C</tspan><tspan x="252.25" fill="#1a1a1a" stroke="#1a1a1a">G</tspan><tspan x="258.35" fill="#1a1a1a" stroke="#1a1a1a">T</tspan><tspan x="264.45" fill="#1a1a1a" stroke="#1a1a1a">C</tspan><tspan x="270.55" fill="#1a1a1a" stroke="#1a1a1a">C</tspan><tspan x="276.65" fill="#1a1a1a" stroke="#1a1a1a">A</tspan><tspan x="282.75" fill="#1a1a1a" stroke="#1a1a1a">T</tspan><tspan x="288.85" fill="#1a1a1a" stroke="#1a1a1a">C</tspan><tspan x="294.95" fill="#1a1a1a" stroke="#1a1a1a">G</tspan><tspan x="301.05" fill="#1a1a1a" stroke="#1a1a1a">G</tspan></text>
<text transform="translate(0,450.30) scale(1,1.07)" y="0" font-family="Liberation Mono, monospace" font-size="10.2" text-anchor="middle" class="m"><tspan x="308.55" fill="#1a1a1a" stroke="#1a1a1a">T</tspan></text>
<text transform="translate(0,447.00) scale(1,1.07)" y="0" font-family="Liberation Mono, monospace" font-size="10.2" text-anchor="middle" class="m"><tspan x="316.55" fill="#1a1a1a" stroke="#1a1a1a">T</tspan></text>
<text x="40.8" y="475.6" font-family="Liberation Sans, sans-serif" font-size="11.4" font-style="italic" stroke="#111" stroke-width="0.2">DNA 4B</text>
<text transform="translate(0,492.50) scale(1,1.07)" y="0" font-family="Liberation Mono, monospace" font-size="10.2" text-anchor="middle" class="m"><tspan x="69.25" fill="#1a1a1a" stroke="#1a1a1a">5</tspan><tspan x="75.35" fill="#1a1a1a" stroke="#1a1a1a">´</tspan><tspan x="81.45" fill="#1a1a1a" stroke="#1a1a1a">-</tspan><tspan x="87.55" fill="#1a1a1a" stroke="#1a1a1a">1</tspan><tspan x="93.65" fill="#1a1a1a" stroke="#1a1a1a">6</tspan><tspan x="99.75" fill="#1a1a1a" stroke="#1a1a1a">-</tspan><tspan x="105.85" fill="#1a1a1a" stroke="#1a1a1a">T</tspan><tspan x="111.95" fill="#1a1a1a" stroke="#1a1a1a">C</tspan><tspan x="118.05" fill="#1a1a1a" stroke="#1a1a1a">C</tspan><tspan x="124.15" fill="#1a1a1a" stroke="#1a1a1a">A</tspan><tspan x="130.25" fill="#1a1a1a" stroke="#1a1a1a">T</tspan><tspan x="136.35" fill="#1a1a1a" stroke="#1a1a1a">T</tspan><tspan x="142.45" fill="#e8141c" stroke="#e8141c">X</tspan><tspan x="148.55" fill="#e8141c" stroke="#e8141c">X</tspan><tspan x="154.65" fill="#e8141c" stroke="#e8141c">X</tspan><tspan x="160.75" fill="#e8141c" stroke="#e8141c">X</tspan><tspan x="166.85" fill="#e8141c" stroke="#e8141c">X</tspan><tspan x="172.95" fill="#1a1a1a" stroke="#1a1a1a">A</tspan><tspan x="179.05" fill="#1a1a1a" stroke="#1a1a1a">C</tspan><tspan x="185.15" fill="#1a1a1a" stroke="#1a1a1a">T</tspan><tspan x="191.25" fill="#1a1a1a" stroke="#1a1a1a">A</tspan><tspan x="197.35" fill="#1a1a1a" stroke="#1a1a1a">C</tspan><tspan x="203.45" fill="#1a1a1a" stroke="#1a1a1a">T</tspan><tspan x="209.55" fill="#1a1a1a" stroke="#1a1a1a">C</tspan><tspan x="215.65" fill="#4a5fc2" stroke="#4a5fc2">A</tspan><tspan x="221.75" fill="#1a1a1a" stroke="#1a1a1a">G</tspan><tspan x="227.85" fill="#cc4aa6" stroke="#cc4aa6">A</tspan><tspan x="233.95" fill="#5cb53a" stroke="#5cb53a">C</tspan><tspan x="240.05" fill="#1a1a1a" stroke="#1a1a1a">T</tspan><tspan x="246.15" fill="#1a1a1a" stroke="#1a1a1a">G</tspan><tspan x="252.25" fill="#1a1a1a" stroke="#1a1a1a">C</tspan><tspan x="258.35" fill="#1a1a1a" stroke="#1a1a1a">A</tspan><tspan x="264.45" fill="#1a1a1a" stroke="#1a1a1a">G</tspan><tspan x="270.55" fill="#1a1a1a" stroke="#1a1a1a">G</tspan><tspan x="276.65" fill="#1a1a1a" stroke="#1a1a1a">T</tspan><tspan x="282.75" fill="#1a1a1a" stroke="#1a1a1a">A</tspan><tspan x="288.85" fill="#1a1a1a" stroke="#1a1a1a">G</tspan><tspan x="294.95" fill="#1a1a1a" stroke="#1a1a1a">C</tspan><tspan x="301.05" fill="#1a1a1a" stroke="#1a1a1a">C</tspan></text>
<text transform="translate(0,490.10) scale(1,1.07)" y="0" font-family="Liberation Mono, monospace" font-size="10.2" text-anchor="middle" class="m"><tspan x="308.55" fill="#1a1a1a" stroke="#1a1a1a">T</tspan></text>
<text transform="translate(0,492.50) scale(1,1.07)" y="0" font-family="Liberation Mono, monospace" font-size="10.2" text-anchor="middle" class="m"><tspan x="316.55" fill="#1a1a1a" stroke="#1a1a1a">T</tspan></text>
<text x="216.35" y="506.20" font-family="Liberation Mono, monospace" font-size="7.2" text-anchor="middle" fill="#1a1a1a">H</text>
<text transform="translate(0,504.90) scale(1,1.07)" y="0" font-family="Liberation Mono, monospace" font-size="10.2" text-anchor="middle" class="m"><tspan x="221.75" fill="#1a1a1a" stroke="#1a1a1a">C</tspan><tspan x="227.85" fill="#cc4aa6" stroke="#cc4aa6">T</tspan><tspan x="233.95" fill="#5cb53a" stroke="#5cb53a">G</tspan><tspan x="240.05" fill="#1a1a1a" stroke="#1a1a1a">A</tspan><tspan x="246.15" fill="#1a1a1a" stroke="#1a1a1a">C</tspan><tspan x="252.25" fill="#1a1a1a" stroke="#1a1a1a">G</tspan><tspan x="258.35" fill="#1a1a1a" stroke="#1a1a1a">T</tspan><tspan x="264.45" fill="#1a1a1a" stroke="#1a1a1a">C</tspan><tspan x="270.55" fill="#1a1a1a" stroke="#1a1a1a">C</tspan><tspan x="276.65" fill="#1a1a1a" stroke="#1a1a1a">A</tspan><tspan x="282.75" fill="#1a1a1a" stroke="#1a1a1a">T</tspan><tspan x="288.85" fill="#1a1a1a" stroke="#1a1a1a">C</tspan><tspan x="294.95" fill="#1a1a1a" stroke="#1a1a1a">G</tspan><tspan x="301.05" fill="#1a1a1a" stroke="#1a1a1a">G</tspan></text>
<text transform="translate(0,506.30) scale(1,1.07)" y="0" font-family="Liberation Mono, monospace" font-size="10.2" text-anchor="middle" class="m"><tspan x="308.55" fill="#1a1a1a" stroke="#1a1a1a">T</tspan></text>
<text transform="translate(0,503.00) scale(1,1.07)" y="0" font-family="Liberation Mono, monospace" font-size="10.2" text-anchor="middle" class="m"><tspan x="316.55" fill="#1a1a1a" stroke="#1a1a1a">T</tspan></text></g>
</svg></body></html>
